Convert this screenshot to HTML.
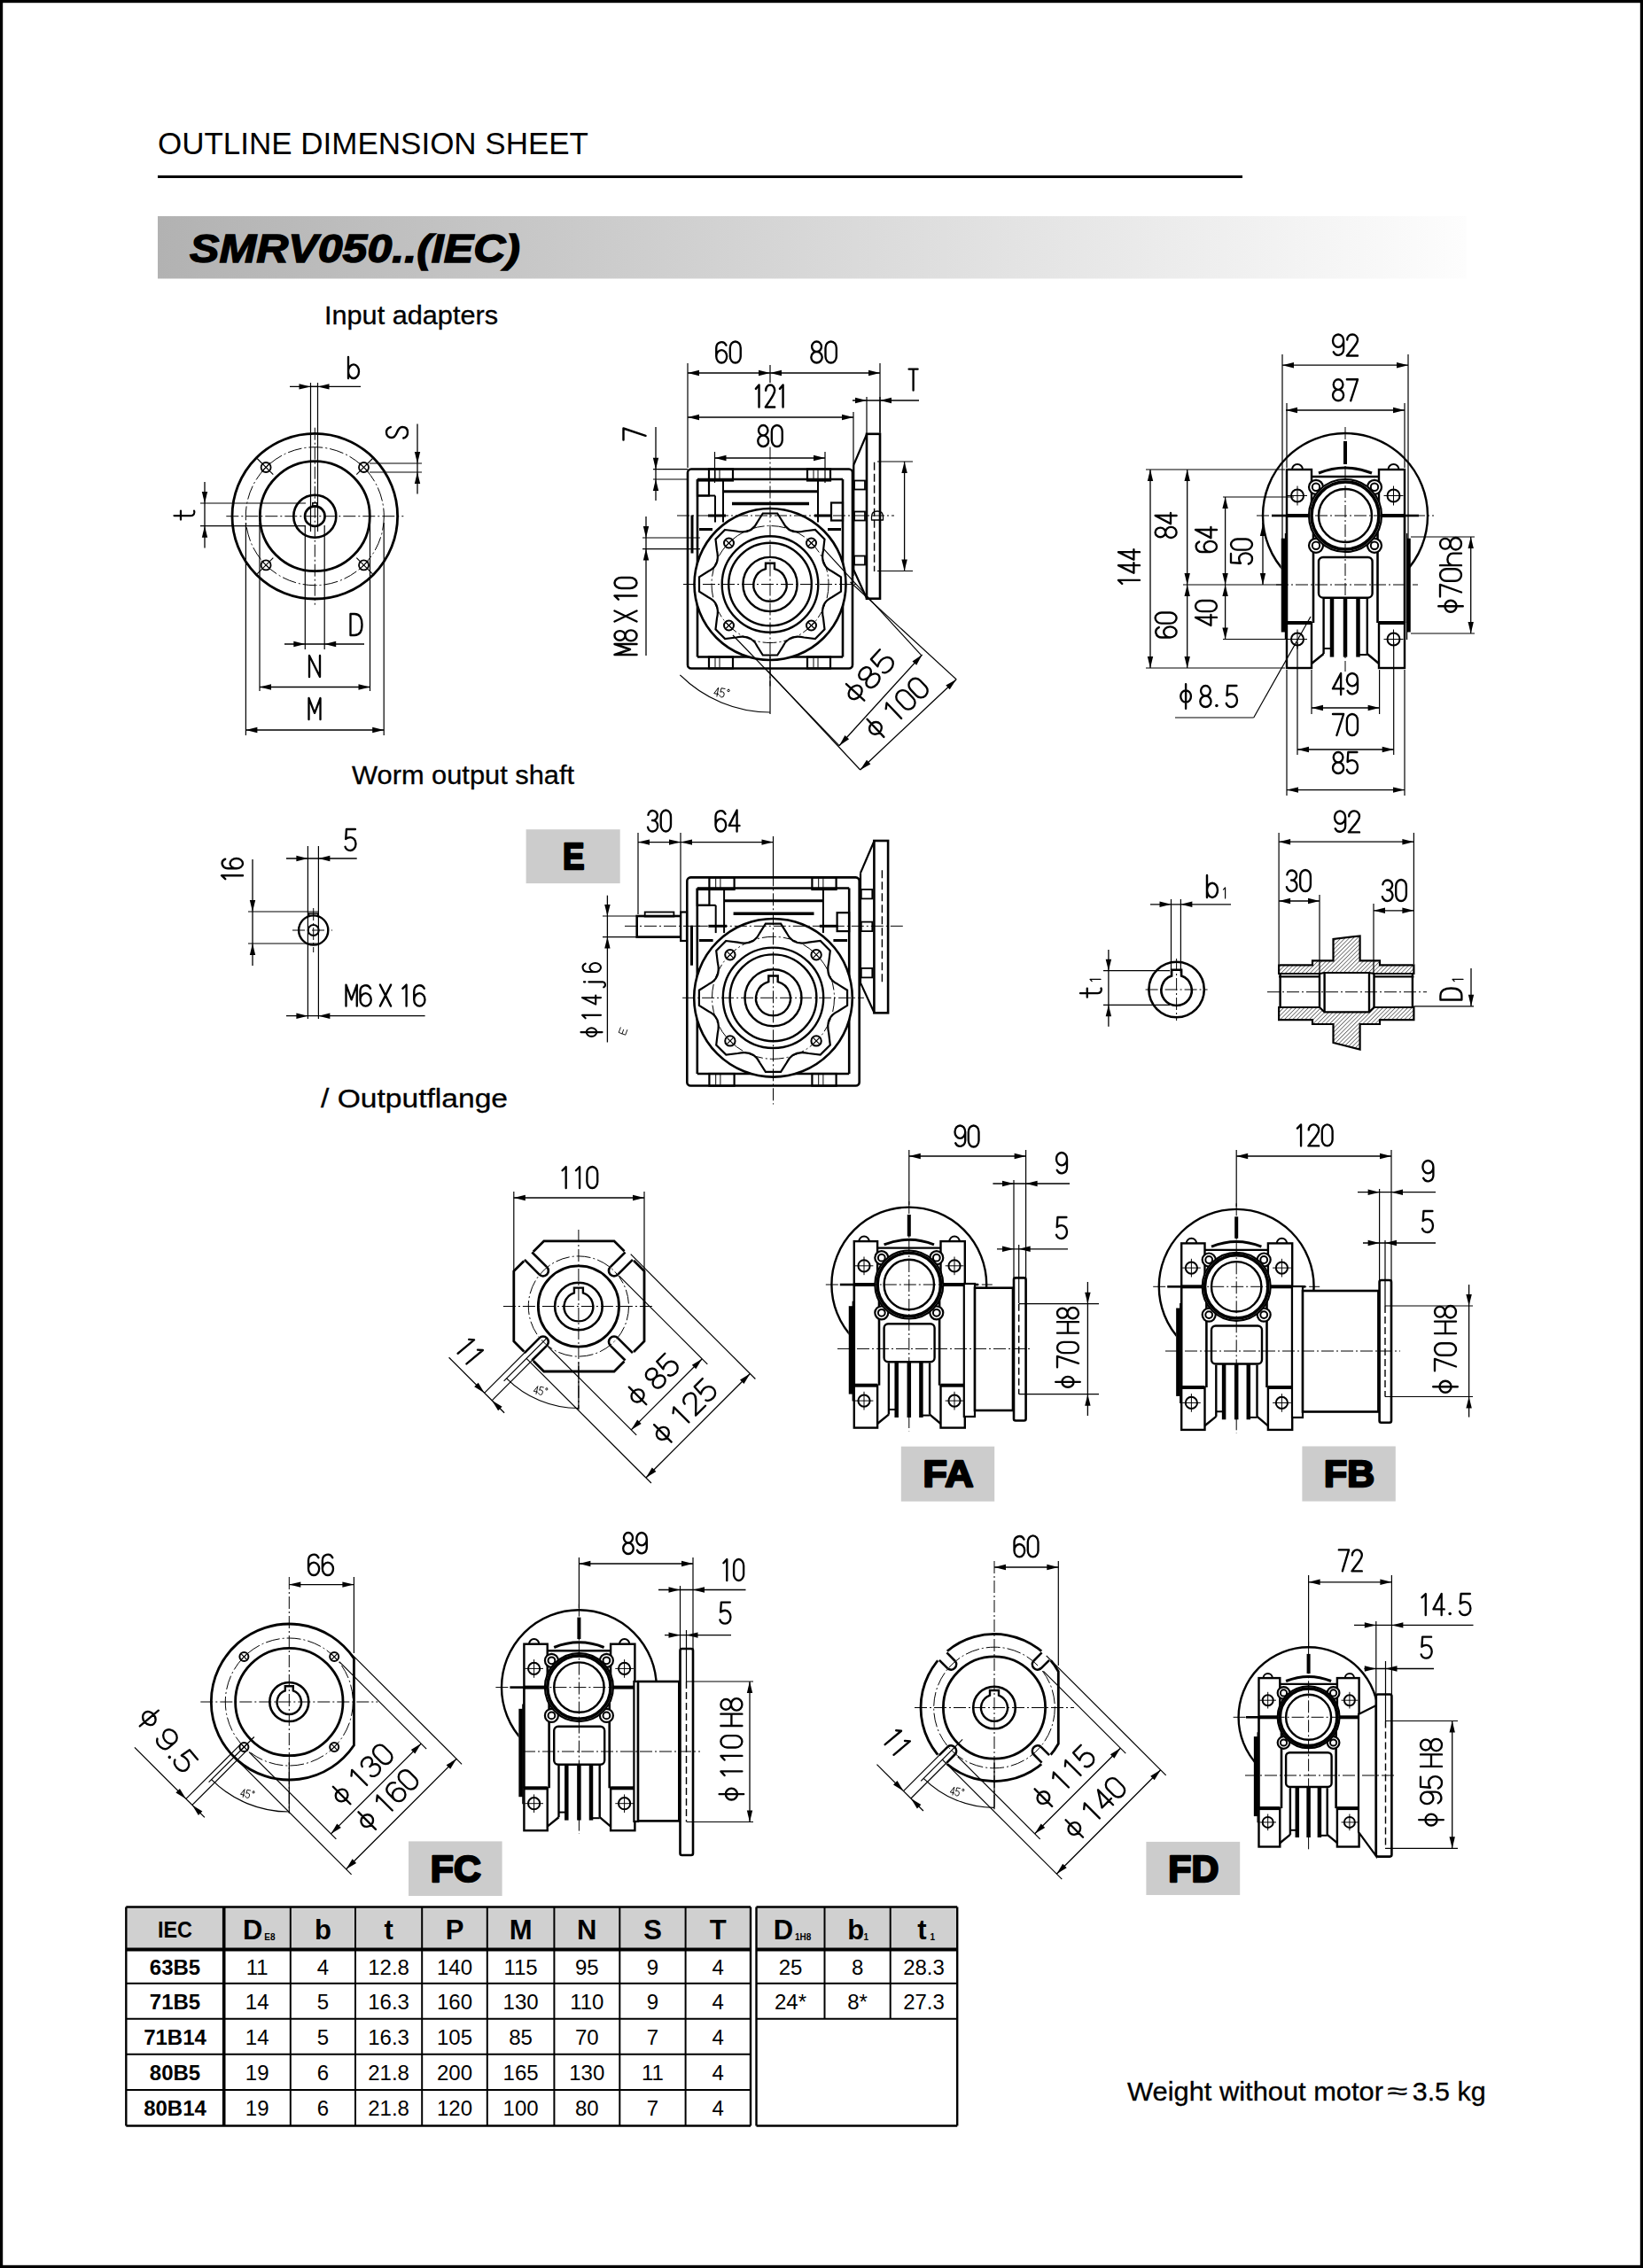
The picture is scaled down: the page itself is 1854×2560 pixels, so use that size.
<!DOCTYPE html>
<html><head><meta charset="utf-8"><style>
html,body{margin:0;padding:0;background:#fff;}
body{width:1854px;height:2560px;position:relative;overflow:hidden;}
svg{position:absolute;left:0;top:0;}
</style></head><body>
<svg width="1854" height="2560" viewBox="0 0 1854 2560">
<defs><linearGradient id="gb" x1="0" x2="1" y1="0" y2="0"><stop offset="0" stop-color="#b2b2b2"/><stop offset="1" stop-color="#fdfdfd"/></linearGradient></defs>
<rect x="1.5" y="1.5" width="1851" height="2557" fill="none" stroke="#000" stroke-width="3.4"/>
<text x="178" y="174" font-family="Liberation Sans" font-size="35.8" textLength="486" lengthAdjust="spacingAndGlyphs">OUTLINE DIMENSION SHEET</text>
<rect x="178" y="198" width="1224" height="3" fill="#000"/>
<rect x="178" y="244" width="1477" height="70.5" fill="url(#gb)"/>
<text x="214" y="296" font-family="Liberation Sans" font-size="45" font-weight="bold" font-style="italic" stroke="#000" stroke-width="1.4" textLength="373" lengthAdjust="spacingAndGlyphs">SMRV050..(IEC)</text>
<text x="366" y="366" font-family="Liberation Sans" font-size="29.5" stroke="#000" stroke-width="0.3" textLength="196" lengthAdjust="spacingAndGlyphs">Input adapters</text>
<text x="397" y="885" font-family="Liberation Sans" font-size="29.5" stroke="#000" stroke-width="0.3" textLength="251" lengthAdjust="spacingAndGlyphs">Worm output shaft</text>
<text x="362" y="1250" font-family="Liberation Sans" font-size="29.5" stroke="#000" stroke-width="0.3" textLength="211" lengthAdjust="spacingAndGlyphs">/ Outputflange</text>
<text x="1272" y="2371" font-family="Liberation Sans" font-size="29.5" stroke="#000" stroke-width="0.3" textLength="289" lengthAdjust="spacingAndGlyphs">Weight without motor</text>
<text x="1565" y="2369" font-family="Liberation Sans" font-size="26" stroke="#000" stroke-width="0.3" textLength="23" lengthAdjust="spacingAndGlyphs">≈</text>
<text x="1593.7" y="2371" font-family="Liberation Sans" font-size="29.5" stroke="#000" stroke-width="0.3" textLength="83" lengthAdjust="spacingAndGlyphs">3.5 kg</text>
<rect x="593.6" y="936.2" width="106.10000000000002" height="60.89999999999998" fill="#cccccc"/>
<text x="647.1500000000001" y="981.2500000000001" font-family="Liberation Sans" font-size="42.5" font-weight="bold" stroke="#000" stroke-width="2.4" stroke-linejoin="round" text-anchor="middle" textLength="24.5" lengthAdjust="spacingAndGlyphs">E</text>
<rect x="1016.8" y="1632.7" width="105.40000000000009" height="62.0" fill="#cccccc"/>
<text x="1070.0" y="1678.3" font-family="Liberation Sans" font-size="42.5" font-weight="bold" stroke="#000" stroke-width="2.4" stroke-linejoin="round" text-anchor="middle" textLength="57" lengthAdjust="spacingAndGlyphs">FA</text>
<rect x="1469.4" y="1632.5" width="105.39999999999986" height="62.09999999999991" fill="#cccccc"/>
<text x="1522.6" y="1678.1499999999999" font-family="Liberation Sans" font-size="42.5" font-weight="bold" stroke="#000" stroke-width="2.4" stroke-linejoin="round" text-anchor="middle" textLength="57" lengthAdjust="spacingAndGlyphs">FB</text>
<rect x="461" y="2078.4" width="105.60000000000002" height="61.59999999999991" fill="#cccccc"/>
<text x="514.3" y="2123.7999999999997" font-family="Liberation Sans" font-size="42.5" font-weight="bold" stroke="#000" stroke-width="2.4" stroke-linejoin="round" text-anchor="middle" textLength="57" lengthAdjust="spacingAndGlyphs">FC</text>
<rect x="1293.4" y="2078.9" width="105.79999999999995" height="60.09999999999991" fill="#cccccc"/>
<text x="1346.8000000000002" y="2123.5499999999997" font-family="Liberation Sans" font-size="42.5" font-weight="bold" stroke="#000" stroke-width="2.4" stroke-linejoin="round" text-anchor="middle" textLength="57" lengthAdjust="spacingAndGlyphs">FD</text>
<rect x="142.3" y="2152.5" width="704.7" height="48.0" fill="#d0d0d0"/>
<rect x="853.5" y="2152.5" width="226.70000000000005" height="48.0" fill="#d0d0d0"/>
<line x1="142.3" y1="2152.5" x2="847" y2="2152.5" stroke="#000" stroke-width="2.4"/>
<line x1="853.5" y1="2152.5" x2="1080.2" y2="2152.5" stroke="#000" stroke-width="2.4"/>
<line x1="142.3" y1="2200.5" x2="847" y2="2200.5" stroke="#000" stroke-width="4"/>
<line x1="853.5" y1="2200.5" x2="1080.2" y2="2200.5" stroke="#000" stroke-width="4"/>
<line x1="142.3" y1="2238.7" x2="847" y2="2238.7" stroke="#000" stroke-width="2"/>
<line x1="142.3" y1="2278.8" x2="847" y2="2278.8" stroke="#000" stroke-width="2"/>
<line x1="142.3" y1="2318.8" x2="847" y2="2318.8" stroke="#000" stroke-width="2"/>
<line x1="142.3" y1="2359" x2="847" y2="2359" stroke="#000" stroke-width="2"/>
<line x1="142.3" y1="2399.5" x2="847" y2="2399.5" stroke="#000" stroke-width="2.4"/>
<line x1="853.5" y1="2238.7" x2="1080.2" y2="2238.7" stroke="#000" stroke-width="2"/>
<line x1="853.5" y1="2278.8" x2="1080.2" y2="2278.8" stroke="#000" stroke-width="2"/>
<line x1="853.5" y1="2399.5" x2="1080.2" y2="2399.5" stroke="#000" stroke-width="2.4"/>
<line x1="142.3" y1="2152.5" x2="142.3" y2="2399.5" stroke="#000" stroke-width="2.4"/>
<line x1="252.7" y1="2152.5" x2="252.7" y2="2399.5" stroke="#000" stroke-width="3.6"/>
<line x1="327.8" y1="2152.5" x2="327.8" y2="2399.5" stroke="#000" stroke-width="2"/>
<line x1="401" y1="2152.5" x2="401" y2="2399.5" stroke="#000" stroke-width="2"/>
<line x1="476.2" y1="2152.5" x2="476.2" y2="2399.5" stroke="#000" stroke-width="2"/>
<line x1="549.8" y1="2152.5" x2="549.8" y2="2399.5" stroke="#000" stroke-width="2"/>
<line x1="625.4" y1="2152.5" x2="625.4" y2="2399.5" stroke="#000" stroke-width="2"/>
<line x1="699.3" y1="2152.5" x2="699.3" y2="2399.5" stroke="#000" stroke-width="2"/>
<line x1="773.6" y1="2152.5" x2="773.6" y2="2399.5" stroke="#000" stroke-width="2"/>
<line x1="847" y1="2152.5" x2="847" y2="2399.5" stroke="#000" stroke-width="2.4"/>
<line x1="853.5" y1="2152.5" x2="853.5" y2="2399.5" stroke="#000" stroke-width="2.4"/>
<line x1="930.5" y1="2152.5" x2="930.5" y2="2278.8" stroke="#000" stroke-width="2"/>
<line x1="1004.7" y1="2152.5" x2="1004.7" y2="2278.8" stroke="#000" stroke-width="2"/>
<line x1="1080.2" y1="2152.5" x2="1080.2" y2="2399.5" stroke="#000" stroke-width="2.4"/>
<text x="197.5" y="2187.0" font-family="Liberation Sans" font-size="26" font-weight="bold" text-anchor="middle" textLength="39" lengthAdjust="spacingAndGlyphs">IEC</text>
<text x="285.2" y="2189.0" font-family="Liberation Sans" font-size="31" font-weight="bold" text-anchor="middle" >D</text>
<text x="298.25" y="2190" font-family="Liberation Sans" font-size="10" font-weight="bold">E8</text>
<text x="364.4" y="2189.0" font-family="Liberation Sans" font-size="31" font-weight="bold" text-anchor="middle" >b</text>
<text x="438.6" y="2189.0" font-family="Liberation Sans" font-size="31" font-weight="bold" text-anchor="middle" >t</text>
<text x="513.0" y="2189.0" font-family="Liberation Sans" font-size="31" font-weight="bold" text-anchor="middle" >P</text>
<text x="587.6" y="2189.0" font-family="Liberation Sans" font-size="31" font-weight="bold" text-anchor="middle" >M</text>
<text x="662.3" y="2189.0" font-family="Liberation Sans" font-size="31" font-weight="bold" text-anchor="middle" >N</text>
<text x="736.5" y="2189.0" font-family="Liberation Sans" font-size="31" font-weight="bold" text-anchor="middle" >S</text>
<text x="810.3" y="2189.0" font-family="Liberation Sans" font-size="31" font-weight="bold" text-anchor="middle" >T</text>
<text x="884.0" y="2189.0" font-family="Liberation Sans" font-size="31" font-weight="bold" text-anchor="middle" >D</text>
<text x="897.0" y="2190" font-family="Liberation Sans" font-size="10" font-weight="bold">1H8</text>
<text x="965.6" y="2189.0" font-family="Liberation Sans" font-size="31" font-weight="bold" text-anchor="middle" >b</text>
<text x="974.6" y="2190" font-family="Liberation Sans" font-size="10" font-weight="bold">1</text>
<text x="1040.5" y="2189.0" font-family="Liberation Sans" font-size="31" font-weight="bold" text-anchor="middle" >t</text>
<text x="1049.45" y="2190" font-family="Liberation Sans" font-size="10" font-weight="bold">1</text>
<text x="197.5" y="2228.6" font-family="Liberation Sans" font-size="24" font-weight="bold" text-anchor="middle" >63B5</text>
<text x="290.2" y="2228.6" font-family="Liberation Sans" font-size="24"  text-anchor="middle" >11</text>
<text x="364.4" y="2228.6" font-family="Liberation Sans" font-size="24"  text-anchor="middle" >4</text>
<text x="438.6" y="2228.6" font-family="Liberation Sans" font-size="24"  text-anchor="middle" >12.8</text>
<text x="513.0" y="2228.6" font-family="Liberation Sans" font-size="24"  text-anchor="middle" >140</text>
<text x="587.6" y="2228.6" font-family="Liberation Sans" font-size="24"  text-anchor="middle" >115</text>
<text x="662.3" y="2228.6" font-family="Liberation Sans" font-size="24"  text-anchor="middle" >95</text>
<text x="736.5" y="2228.6" font-family="Liberation Sans" font-size="24"  text-anchor="middle" >9</text>
<text x="810.3" y="2228.6" font-family="Liberation Sans" font-size="24"  text-anchor="middle" >4</text>
<text x="197.5" y="2267.8" font-family="Liberation Sans" font-size="24" font-weight="bold" text-anchor="middle" >71B5</text>
<text x="290.2" y="2267.8" font-family="Liberation Sans" font-size="24"  text-anchor="middle" >14</text>
<text x="364.4" y="2267.8" font-family="Liberation Sans" font-size="24"  text-anchor="middle" >5</text>
<text x="438.6" y="2267.8" font-family="Liberation Sans" font-size="24"  text-anchor="middle" >16.3</text>
<text x="513.0" y="2267.8" font-family="Liberation Sans" font-size="24"  text-anchor="middle" >160</text>
<text x="587.6" y="2267.8" font-family="Liberation Sans" font-size="24"  text-anchor="middle" >130</text>
<text x="662.3" y="2267.8" font-family="Liberation Sans" font-size="24"  text-anchor="middle" >110</text>
<text x="736.5" y="2267.8" font-family="Liberation Sans" font-size="24"  text-anchor="middle" >9</text>
<text x="810.3" y="2267.8" font-family="Liberation Sans" font-size="24"  text-anchor="middle" >4</text>
<text x="197.5" y="2307.8" font-family="Liberation Sans" font-size="24" font-weight="bold" text-anchor="middle" >71B14</text>
<text x="290.2" y="2307.8" font-family="Liberation Sans" font-size="24"  text-anchor="middle" >14</text>
<text x="364.4" y="2307.8" font-family="Liberation Sans" font-size="24"  text-anchor="middle" >5</text>
<text x="438.6" y="2307.8" font-family="Liberation Sans" font-size="24"  text-anchor="middle" >16.3</text>
<text x="513.0" y="2307.8" font-family="Liberation Sans" font-size="24"  text-anchor="middle" >105</text>
<text x="587.6" y="2307.8" font-family="Liberation Sans" font-size="24"  text-anchor="middle" >85</text>
<text x="662.3" y="2307.8" font-family="Liberation Sans" font-size="24"  text-anchor="middle" >70</text>
<text x="736.5" y="2307.8" font-family="Liberation Sans" font-size="24"  text-anchor="middle" >7</text>
<text x="810.3" y="2307.8" font-family="Liberation Sans" font-size="24"  text-anchor="middle" >4</text>
<text x="197.5" y="2347.9" font-family="Liberation Sans" font-size="24" font-weight="bold" text-anchor="middle" >80B5</text>
<text x="290.2" y="2347.9" font-family="Liberation Sans" font-size="24"  text-anchor="middle" >19</text>
<text x="364.4" y="2347.9" font-family="Liberation Sans" font-size="24"  text-anchor="middle" >6</text>
<text x="438.6" y="2347.9" font-family="Liberation Sans" font-size="24"  text-anchor="middle" >21.8</text>
<text x="513.0" y="2347.9" font-family="Liberation Sans" font-size="24"  text-anchor="middle" >200</text>
<text x="587.6" y="2347.9" font-family="Liberation Sans" font-size="24"  text-anchor="middle" >165</text>
<text x="662.3" y="2347.9" font-family="Liberation Sans" font-size="24"  text-anchor="middle" >130</text>
<text x="736.5" y="2347.9" font-family="Liberation Sans" font-size="24"  text-anchor="middle" >11</text>
<text x="810.3" y="2347.9" font-family="Liberation Sans" font-size="24"  text-anchor="middle" >4</text>
<text x="197.5" y="2388.2" font-family="Liberation Sans" font-size="24" font-weight="bold" text-anchor="middle" >80B14</text>
<text x="290.2" y="2388.2" font-family="Liberation Sans" font-size="24"  text-anchor="middle" >19</text>
<text x="364.4" y="2388.2" font-family="Liberation Sans" font-size="24"  text-anchor="middle" >6</text>
<text x="438.6" y="2388.2" font-family="Liberation Sans" font-size="24"  text-anchor="middle" >21.8</text>
<text x="513.0" y="2388.2" font-family="Liberation Sans" font-size="24"  text-anchor="middle" >120</text>
<text x="587.6" y="2388.2" font-family="Liberation Sans" font-size="24"  text-anchor="middle" >100</text>
<text x="662.3" y="2388.2" font-family="Liberation Sans" font-size="24"  text-anchor="middle" >80</text>
<text x="736.5" y="2388.2" font-family="Liberation Sans" font-size="24"  text-anchor="middle" >7</text>
<text x="810.3" y="2388.2" font-family="Liberation Sans" font-size="24"  text-anchor="middle" >4</text>
<text x="892.0" y="2228.6" font-family="Liberation Sans" font-size="24"  text-anchor="middle" >25</text>
<text x="967.6" y="2228.6" font-family="Liberation Sans" font-size="24"  text-anchor="middle" >8</text>
<text x="1042.5" y="2228.6" font-family="Liberation Sans" font-size="24"  text-anchor="middle" >28.3</text>
<text x="892.0" y="2267.8" font-family="Liberation Sans" font-size="24"  text-anchor="middle" >24*</text>
<text x="967.6" y="2267.8" font-family="Liberation Sans" font-size="24"  text-anchor="middle" >8*</text>
<text x="1042.5" y="2267.8" font-family="Liberation Sans" font-size="24"  text-anchor="middle" >27.3</text>
<circle cx="355.3" cy="582.7" r="93.3" stroke="#000" stroke-width="2.8" fill="none" />
<circle cx="355.3" cy="582.7" r="78.0" stroke="#000" stroke-width="1.0" fill="none" stroke-dasharray="16 3 2 3"/>
<circle cx="355.3" cy="582.7" r="62.0" stroke="#000" stroke-width="2.8" fill="none" />
<circle cx="355.3" cy="582.7" r="24.0" stroke="#000" stroke-width="2.6" fill="none" />
<circle cx="355.3" cy="582.7" r="11.3" stroke="#000" stroke-width="2.6" fill="none" />
<path d="M352.8,571.7 L352.8,567.7 L357.8,567.7 L357.8,571.7" stroke="#000" stroke-width="1.5" fill="none" />
<circle cx="300.1" cy="527.5" r="5.5" stroke="#000" stroke-width="1.8" fill="none" />
<line x1="308.3" y1="535.7" x2="290.1" y2="517.5" stroke="#000" stroke-width="1.1" />
<line x1="295.1" y1="532.5" x2="305.1" y2="522.5" stroke="#000" stroke-width="1.1" />
<circle cx="410.5" cy="527.5" r="5.5" stroke="#000" stroke-width="1.8" fill="none" />
<line x1="402.3" y1="535.7" x2="420.5" y2="517.5" stroke="#000" stroke-width="1.1" />
<line x1="405.5" y1="522.5" x2="415.5" y2="532.5" stroke="#000" stroke-width="1.1" />
<circle cx="300.1" cy="637.9" r="5.5" stroke="#000" stroke-width="1.8" fill="none" />
<line x1="308.3" y1="629.7" x2="290.1" y2="647.9" stroke="#000" stroke-width="1.1" />
<line x1="295.1" y1="632.9" x2="305.1" y2="642.9" stroke="#000" stroke-width="1.1" />
<circle cx="410.5" cy="637.9" r="5.5" stroke="#000" stroke-width="1.8" fill="none" />
<line x1="402.3" y1="629.7" x2="420.5" y2="647.9" stroke="#000" stroke-width="1.1" />
<line x1="405.5" y1="642.9" x2="415.5" y2="632.9" stroke="#000" stroke-width="1.1" />
<line x1="255.3" y1="582.7" x2="455.3" y2="582.7" stroke="#000" stroke-width="1.0" stroke-dasharray="14 3 2 3"/>
<line x1="355.3" y1="482.7" x2="355.3" y2="682.7" stroke="#000" stroke-width="1.0" stroke-dasharray="14 3 2 3"/>
<line x1="350.5" y1="432.0" x2="350.5" y2="600.0" stroke="#000" stroke-width="1.2" />
<line x1="358.5" y1="432.0" x2="358.5" y2="600.0" stroke="#000" stroke-width="1.2" />
<line x1="350.5" y1="436.4" x2="358.5" y2="436.4" stroke="#000" stroke-width="1.3" />
<line x1="327.0" y1="436.4" x2="407.0" y2="436.4" stroke="#000" stroke-width="1.3" />
<path d="M350.5,436.4 L337.5,439.6 L337.5,433.2Z" fill="#000"/>
<path d="M358.5,436.4 L371.5,433.2 L371.5,439.6Z" fill="#000"/>
<g transform="translate(399.0,415.0) rotate(0)" fill="none" stroke="#000" stroke-width="2.35" stroke-linecap="round" stroke-linejoin="round"><path transform="translate(-6.00,-12.00) scale(1.2000,1.2000)" d="M0,0 L0,20 M0,13.5 A5,6.5 0 0 1 10,13.5 A5,6.5 0 0 1 0,13.5" vector-effect="non-scaling-stroke"/></g>
<line x1="417.0" y1="523.0" x2="476.0" y2="523.0" stroke="#000" stroke-width="1.2" />
<line x1="417.0" y1="533.0" x2="476.0" y2="533.0" stroke="#000" stroke-width="1.2" />
<line x1="471.0" y1="478.5" x2="471.0" y2="557.6" stroke="#000" stroke-width="1.3" />
<path d="M471.0,523.0 L467.8,510.0 L474.2,510.0Z" fill="#000"/>
<path d="M471.0,533.0 L474.2,546.0 L467.8,546.0Z" fill="#000"/>
<g transform="translate(448.0,488.0) rotate(-90)" fill="none" stroke="#000" stroke-width="2.35" stroke-linecap="round" stroke-linejoin="round"><path transform="translate(-6.50,-12.00) scale(1.3000,1.2000)" d="M9.6,4 C9,1.5 7.2,0 5,0 C2,0 0.4,2 0.4,5 C0.4,11 9.6,9 9.6,15 C9.6,18.2 7.8,20 5,20 C2.4,20 0.5,18.4 0,16" vector-effect="non-scaling-stroke"/></g>
<line x1="226.0" y1="568.0" x2="345.0" y2="568.0" stroke="#000" stroke-width="1.2" />
<line x1="226.0" y1="593.7" x2="345.0" y2="593.7" stroke="#000" stroke-width="1.2" />
<line x1="231.0" y1="544.0" x2="231.0" y2="618.5" stroke="#000" stroke-width="1.3" />
<path d="M231.0,568.0 L227.8,555.0 L234.2,555.0Z" fill="#000"/>
<path d="M231.0,593.7 L234.2,606.7 L227.8,606.7Z" fill="#000"/>
<g transform="translate(208.0,581.0) rotate(-90)" fill="none" stroke="#000" stroke-width="2.25" stroke-linecap="round" stroke-linejoin="round"><path transform="translate(-5.50,-11.50) scale(1.1000,1.1500)" d="M4,0 L4,16.5 A3.5,3.5 0 0 0 9,19.6 M0,6.5 L9,6.5" vector-effect="non-scaling-stroke"/></g>
<line x1="344.3" y1="593.0" x2="344.3" y2="733.0" stroke="#000" stroke-width="1.2" />
<line x1="366.2" y1="593.0" x2="366.2" y2="733.0" stroke="#000" stroke-width="1.2" />
<line x1="321.0" y1="727.0" x2="411.0" y2="727.0" stroke="#000" stroke-width="1.3" />
<path d="M344.3,727.0 L331.3,730.2 L331.3,723.8Z" fill="#000"/>
<path d="M366.2,727.0 L379.2,723.8 L379.2,730.2Z" fill="#000"/>
<g transform="translate(402.0,705.0) rotate(0)" fill="none" stroke="#000" stroke-width="2.35" stroke-linecap="round" stroke-linejoin="round"><path transform="translate(-6.50,-12.00) scale(1.3000,1.2000)" d="M0,0 L3.5,0 C8.5,0 10,4.5 10,10 C10,15.5 8.5,20 3.5,20 L0,20 Z" vector-effect="non-scaling-stroke"/></g>
<line x1="293.0" y1="590.0" x2="293.0" y2="780.0" stroke="#000" stroke-width="1.2" />
<line x1="417.5" y1="590.0" x2="417.5" y2="780.0" stroke="#000" stroke-width="1.2" />
<line x1="293.0" y1="775.5" x2="417.5" y2="775.5" stroke="#000" stroke-width="1.3" />
<path d="M293.0,775.5 L306.0,772.3 L306.0,778.7Z" fill="#000"/>
<path d="M417.5,775.5 L404.5,778.7 L404.5,772.3Z" fill="#000"/>
<g transform="translate(355.0,752.0) rotate(0)" fill="none" stroke="#000" stroke-width="2.35" stroke-linecap="round" stroke-linejoin="round"><path transform="translate(-6.00,-12.00) scale(1.2000,1.2000)" d="M0,20 L0,0 L10,20 L10,0" vector-effect="non-scaling-stroke"/></g>
<line x1="277.4" y1="590.0" x2="277.4" y2="830.0" stroke="#000" stroke-width="1.2" />
<line x1="433.2" y1="590.0" x2="433.2" y2="830.0" stroke="#000" stroke-width="1.2" />
<line x1="277.4" y1="824.0" x2="433.2" y2="824.0" stroke="#000" stroke-width="1.3" />
<path d="M277.4,824.0 L290.4,820.8 L290.4,827.2Z" fill="#000"/>
<path d="M433.2,824.0 L420.2,827.2 L420.2,820.8Z" fill="#000"/>
<g transform="translate(355.0,800.0) rotate(0)" fill="none" stroke="#000" stroke-width="2.35" stroke-linecap="round" stroke-linejoin="round"><path transform="translate(-6.50,-12.00) scale(1.3000,1.2000)" d="M0,20 L0,0 L5,14 L10,0 L10,20" vector-effect="non-scaling-stroke"/></g>
<rect x="776.0" y="529.5" width="186.0" height="225.0" rx="4" stroke="#000" stroke-width="2.6" fill="none"/>
<line x1="787.0" y1="541.0" x2="951.0" y2="541.0" stroke="#000" stroke-width="2.6" />
<line x1="787.0" y1="541.0" x2="787.0" y2="741.5" stroke="#000" stroke-width="2.6" />
<line x1="951.0" y1="541.0" x2="951.0" y2="741.5" stroke="#000" stroke-width="2.6" />
<line x1="787.0" y1="741.5" x2="951.0" y2="741.5" stroke="#000" stroke-width="2.6" />
<rect x="800.0" y="529.5" width="27.0" height="13.0" rx="0" stroke="#000" stroke-width="2.2" fill="none"/>
<rect x="911.0" y="529.5" width="26.0" height="13.0" rx="0" stroke="#000" stroke-width="2.2" fill="none"/>
<line x1="807.0" y1="530.5" x2="807.0" y2="541.5" stroke="#000" stroke-width="1.0" />
<line x1="812.0" y1="530.5" x2="812.0" y2="541.5" stroke="#000" stroke-width="1.0" />
<line x1="918.0" y1="530.5" x2="918.0" y2="541.5" stroke="#000" stroke-width="1.0" />
<line x1="923.0" y1="530.5" x2="923.0" y2="541.5" stroke="#000" stroke-width="1.0" />
<rect x="800.0" y="741.5" width="27.0" height="13.0" rx="0" stroke="#000" stroke-width="2.2" fill="none"/>
<rect x="911.0" y="741.5" width="26.0" height="13.0" rx="0" stroke="#000" stroke-width="2.2" fill="none"/>
<line x1="807.0" y1="742.5" x2="807.0" y2="753.5" stroke="#000" stroke-width="1.0" />
<line x1="812.0" y1="742.5" x2="812.0" y2="753.5" stroke="#000" stroke-width="1.0" />
<line x1="918.0" y1="742.5" x2="918.0" y2="753.5" stroke="#000" stroke-width="1.0" />
<line x1="923.0" y1="742.5" x2="923.0" y2="753.5" stroke="#000" stroke-width="1.0" />
<line x1="816.0" y1="554.7" x2="923.0" y2="554.7" stroke="#000" stroke-width="3.0" />
<line x1="826.0" y1="568.5" x2="913.0" y2="568.5" stroke="#000" stroke-width="3.5" />
<line x1="816.0" y1="541.0" x2="816.0" y2="589.5" stroke="#000" stroke-width="2.0" />
<line x1="923.0" y1="541.0" x2="923.0" y2="589.5" stroke="#000" stroke-width="2.0" />
<rect x="787.0" y="542.5" width="13.0" height="17.0" rx="0" stroke="#000" stroke-width="2.2" fill="none"/>
<rect x="938.0" y="567.5" width="13.0" height="20.0" rx="0" stroke="#000" stroke-width="2.2" fill="none"/>
<line x1="787.0" y1="559.5" x2="807.0" y2="559.5" stroke="#000" stroke-width="2.0" />
<line x1="807.0" y1="559.5" x2="807.0" y2="589.5" stroke="#000" stroke-width="2.0" />
<line x1="799.0" y1="582.0" x2="819.0" y2="582.0" stroke="#000" stroke-width="3.0" />
<line x1="919.0" y1="582.0" x2="939.0" y2="582.0" stroke="#000" stroke-width="3.0" />
<line x1="789.0" y1="597.5" x2="804.0" y2="597.5" stroke="#000" stroke-width="3.0" />
<line x1="934.0" y1="597.5" x2="949.0" y2="597.5" stroke="#000" stroke-width="3.0" />
<line x1="781.0" y1="581.5" x2="781.0" y2="624.5" stroke="#000" stroke-width="3.0" />
<circle cx="869.0" cy="659.5" r="85.5" stroke="#000" stroke-width="2.6" fill="#fff" />
<path d=" M818.1,598.0 L830.7,599.5 Q848.0,603.5 854.5,589.5 L860.8,579.5 L877.2,579.5 L883.5,589.5 Q890.0,603.5 907.3,599.5 L919.9,598.0 L930.5,608.6 L929.0,621.2 Q925.0,638.5 939.0,645.0 L949.0,651.3 L949.0,667.7 L939.0,674.0 Q925.0,680.5 929.0,697.8 L930.5,710.4 L919.9,721.0 L907.3,719.5 Q890.0,715.5 883.5,729.5 L877.2,739.5 L860.8,739.5 L854.5,729.5 Q848.0,715.5 830.7,719.5 L818.1,721.0 L807.5,710.4 L809.0,697.8 Q813.0,680.5 799.0,674.0 L789.0,667.7 L789.0,651.3 L799.0,645.0 Q813.0,638.5 809.0,621.2 L807.5,608.6Z" stroke="#000" stroke-width="2.2" fill="none" />
<circle cx="869.0" cy="659.5" r="54.3" stroke="#000" stroke-width="2.4" fill="none" />
<circle cx="869.0" cy="659.5" r="46.8" stroke="#000" stroke-width="2.4" fill="none" />
<circle cx="869.0" cy="659.5" r="30.6" stroke="#000" stroke-width="2.4" fill="none" />
<path d="M864.0,642.1 L864.0,635.8 L874.0,635.8 L874.0,642.1 A18.7,18.7 0 1 1 864.0,642.1Z" stroke="#000" stroke-width="2.4" fill="none" />
<circle cx="869.0" cy="659.5" r="66.0" stroke="#000" stroke-width="1.0" fill="none" stroke-dasharray="16 3 2 3"/>
<circle cx="822.5" cy="613.0" r="5.5" stroke="#000" stroke-width="2.0" fill="none" />
<line x1="819.0" y1="609.5" x2="826.0" y2="616.5" stroke="#000" stroke-width="1.2" />
<line x1="819.0" y1="616.5" x2="826.0" y2="609.5" stroke="#000" stroke-width="1.2" />
<circle cx="915.5" cy="613.0" r="5.5" stroke="#000" stroke-width="2.0" fill="none" />
<line x1="912.0" y1="609.5" x2="919.0" y2="616.5" stroke="#000" stroke-width="1.2" />
<line x1="912.0" y1="616.5" x2="919.0" y2="609.5" stroke="#000" stroke-width="1.2" />
<circle cx="822.5" cy="706.0" r="5.5" stroke="#000" stroke-width="2.0" fill="none" />
<line x1="819.0" y1="702.5" x2="826.0" y2="709.5" stroke="#000" stroke-width="1.2" />
<line x1="819.0" y1="709.5" x2="826.0" y2="702.5" stroke="#000" stroke-width="1.2" />
<circle cx="915.5" cy="706.0" r="5.5" stroke="#000" stroke-width="2.0" fill="none" />
<line x1="912.0" y1="702.5" x2="919.0" y2="709.5" stroke="#000" stroke-width="1.2" />
<line x1="912.0" y1="709.5" x2="919.0" y2="702.5" stroke="#000" stroke-width="1.2" />
<rect x="978.0" y="489.8" width="15.0" height="185.9" rx="0" stroke="#000" stroke-width="2.6" fill="none"/>
<line x1="963.3" y1="524.7" x2="978.2" y2="489.8" stroke="#000" stroke-width="2.2" />
<line x1="963.3" y1="643.3" x2="978.2" y2="675.7" stroke="#000" stroke-width="2.2" />
<line x1="963.3" y1="524.7" x2="963.3" y2="643.3" stroke="#000" stroke-width="2.2" />
<rect x="964.0" y="542.5" width="12.0" height="10.0" rx="0" stroke="#000" stroke-width="1.8" fill="none"/>
<rect x="964.0" y="577.5" width="12.0" height="10.0" rx="0" stroke="#000" stroke-width="1.8" fill="none"/>
<rect x="964.0" y="627.5" width="12.0" height="10.0" rx="0" stroke="#000" stroke-width="1.8" fill="none"/>
<line x1="986.6" y1="521.7" x2="986.6" y2="645.0" stroke="#000" stroke-width="1.4" stroke-dasharray="9 4"/>
<line x1="869.0" y1="504.5" x2="869.0" y2="774.5" stroke="#000" stroke-width="1.0" stroke-dasharray="14 3 2 3"/>
<line x1="771.0" y1="659.5" x2="967.0" y2="659.5" stroke="#000" stroke-width="1.0" stroke-dasharray="14 3 2 3"/>
<line x1="764.0" y1="582.0" x2="1009.0" y2="582.0" stroke="#000" stroke-width="1.0" stroke-dasharray="14 3 2 3"/>
<line x1="776.0" y1="410.0" x2="776.0" y2="528.0" stroke="#000" stroke-width="1.2" />
<line x1="993.0" y1="410.0" x2="993.0" y2="488.0" stroke="#000" stroke-width="1.2" />
<line x1="869.0" y1="412.0" x2="869.0" y2="432.0" stroke="#000" stroke-width="1.2" />
<line x1="776.0" y1="421.0" x2="993.0" y2="421.0" stroke="#000" stroke-width="1.3" />
<path d="M776.0,421.0 L789.0,417.8 L789.0,424.2Z" fill="#000"/>
<path d="M869.0,421.0 L856.0,424.2 L856.0,417.8Z" fill="#000"/>
<path d="M869.0,421.0 L882.0,417.8 L882.0,424.2Z" fill="#000"/>
<path d="M993.0,421.0 L980.0,424.2 L980.0,417.8Z" fill="#000"/>
<g transform="translate(822.0,397.5) rotate(0)" fill="none" stroke="#000" stroke-width="2.35" stroke-linecap="round" stroke-linejoin="round"><path transform="translate(-13.75,-12.00) scale(1.1934,1.2000)" d="M9.4,3.5 A5,5.6 0 0 0 0,6 L0,14 A5,6 0 0 0 10,14 A5,6 0 0 0 0,14" vector-effect="non-scaling-stroke"/><path transform="translate(1.82,-12.00) scale(1.1934,1.2000)" d="M0,6 A5,6 0 0 1 10,6 L10,14 A5,6 0 0 1 0,14 Z" vector-effect="non-scaling-stroke"/></g>
<g transform="translate(929.6,397.5) rotate(0)" fill="none" stroke="#000" stroke-width="2.35" stroke-linecap="round" stroke-linejoin="round"><path transform="translate(-14.25,-12.00) scale(1.2368,1.2000)" d="M5,0 A4.4,4.8 0 0 1 5,9.6 A4.4,4.8 0 0 1 5,0 M5,9.6 A5,5.2 0 0 1 5,20 A5,5.2 0 0 1 5,9.6" vector-effect="non-scaling-stroke"/><path transform="translate(1.88,-12.00) scale(1.2368,1.2000)" d="M0,6 A5,6 0 0 1 10,6 L10,14 A5,6 0 0 1 0,14 Z" vector-effect="non-scaling-stroke"/></g>
<line x1="963.0" y1="465.0" x2="963.0" y2="650.0" stroke="#000" stroke-width="1.2" />
<line x1="776.0" y1="471.0" x2="963.0" y2="471.0" stroke="#000" stroke-width="1.3" />
<path d="M776.0,471.0 L789.0,467.8 L789.0,474.2Z" fill="#000"/>
<path d="M963.0,471.0 L950.0,474.2 L950.0,467.8Z" fill="#000"/>
<g transform="translate(869.0,447.0) rotate(0)" fill="none" stroke="#000" stroke-width="2.45" stroke-linecap="round" stroke-linejoin="round"><path transform="translate(-18.70,-12.50) scale(1.0364,1.2500)" d="M2.5,3.5 L6,0 L6,20" vector-effect="non-scaling-stroke"/><path transform="translate(-5.18,-12.50) scale(1.0364,1.2500)" d="M0.3,5 A4.85,5 0 0 1 10,5 C10,8.5 7,11 0,20 L10,20" vector-effect="non-scaling-stroke"/><path transform="translate(8.34,-12.50) scale(1.0364,1.2500)" d="M2.5,3.5 L6,0 L6,20" vector-effect="non-scaling-stroke"/></g>
<line x1="806.5" y1="510.0" x2="806.5" y2="545.0" stroke="#000" stroke-width="1.2" />
<line x1="931.0" y1="510.0" x2="931.0" y2="545.0" stroke="#000" stroke-width="1.2" />
<line x1="806.5" y1="517.0" x2="931.0" y2="517.0" stroke="#000" stroke-width="1.3" />
<path d="M806.5,517.0 L819.5,513.8 L819.5,520.2Z" fill="#000"/>
<path d="M931.0,517.0 L918.0,520.2 L918.0,513.8Z" fill="#000"/>
<g transform="translate(869.0,492.0) rotate(0)" fill="none" stroke="#000" stroke-width="2.35" stroke-linecap="round" stroke-linejoin="round"><path transform="translate(-13.75,-12.00) scale(1.1934,1.2000)" d="M5,0 A4.4,4.8 0 0 1 5,9.6 A4.4,4.8 0 0 1 5,0 M5,9.6 A5,5.2 0 0 1 5,20 A5,5.2 0 0 1 5,9.6" vector-effect="non-scaling-stroke"/><path transform="translate(1.82,-12.00) scale(1.1934,1.2000)" d="M0,6 A5,6 0 0 1 10,6 L10,14 A5,6 0 0 1 0,14 Z" vector-effect="non-scaling-stroke"/></g>
<line x1="978.0" y1="448.0" x2="978.0" y2="490.0" stroke="#000" stroke-width="1.2" />
<line x1="993.0" y1="448.0" x2="993.0" y2="490.0" stroke="#000" stroke-width="1.2" />
<line x1="962.0" y1="452.0" x2="1037.0" y2="452.0" stroke="#000" stroke-width="1.3" />
<path d="M978.0,452.0 L965.0,455.2 L965.0,448.8Z" fill="#000"/>
<path d="M993.0,452.0 L1006.0,448.8 L1006.0,455.2Z" fill="#000"/>
<g transform="translate(1030.6,428.6) rotate(0)" fill="none" stroke="#000" stroke-width="2.35" stroke-linecap="round" stroke-linejoin="round"><path transform="translate(-5.00,-12.00) scale(1.0000,1.2000)" d="M0,0 L10,0 M5,0 L5,20" vector-effect="non-scaling-stroke"/></g>
<line x1="737.0" y1="529.7" x2="776.0" y2="529.7" stroke="#000" stroke-width="1.2" />
<line x1="737.0" y1="541.0" x2="776.0" y2="541.0" stroke="#000" stroke-width="1.2" />
<line x1="740.0" y1="482.0" x2="740.0" y2="565.0" stroke="#000" stroke-width="1.3" />
<path d="M740.0,529.7 L736.8,516.7 L743.2,516.7Z" fill="#000"/>
<path d="M740.0,541.0 L743.2,554.0 L736.8,554.0Z" fill="#000"/>
<g transform="translate(716.0,490.0) rotate(-90)" fill="none" stroke="#000" stroke-width="2.45" stroke-linecap="round" stroke-linejoin="round"><path transform="translate(-6.50,-12.50) scale(1.3000,1.2500)" d="M0,0 L10,0 L3.6,20" vector-effect="non-scaling-stroke"/></g>
<line x1="725.0" y1="607.0" x2="790.0" y2="607.0" stroke="#000" stroke-width="1.2" />
<line x1="725.0" y1="619.6" x2="790.0" y2="619.6" stroke="#000" stroke-width="1.2" />
<line x1="729.0" y1="583.0" x2="729.0" y2="740.0" stroke="#000" stroke-width="1.3" />
<path d="M729.0,607.0 L725.8,594.0 L732.2,594.0Z" fill="#000"/>
<path d="M729.0,619.6 L732.2,632.6 L725.8,632.6Z" fill="#000"/>
<g transform="translate(706.0,695.5) rotate(-90)" fill="none" stroke="#000" stroke-width="2.45" stroke-linecap="round" stroke-linejoin="round"><path transform="translate(-43.50,-12.50) scale(1.1982,1.2500)" d="M0,20 L0,0 L5,14 L10,0 L10,20" vector-effect="non-scaling-stroke"/><path transform="translate(-27.87,-12.50) scale(1.1982,1.2500)" d="M5,0 A4.4,4.8 0 0 1 5,9.6 A4.4,4.8 0 0 1 5,0 M5,9.6 A5,5.2 0 0 1 5,20 A5,5.2 0 0 1 5,9.6" vector-effect="non-scaling-stroke"/><path transform="translate(-5.99,-12.50) scale(1.1982,1.2500)" d="M0,0 L10,20 M10,0 L0,20" vector-effect="non-scaling-stroke"/><path transform="translate(15.89,-12.50) scale(1.1982,1.2500)" d="M2.5,3.5 L6,0 L6,20" vector-effect="non-scaling-stroke"/><path transform="translate(31.52,-12.50) scale(1.1982,1.2500)" d="M0,6 A5,6 0 0 1 10,6 L10,14 A5,6 0 0 1 0,14 Z" vector-effect="non-scaling-stroke"/></g>
<line x1="990.0" y1="521.0" x2="1030.0" y2="521.0" stroke="#000" stroke-width="1.2" />
<line x1="990.0" y1="644.5" x2="1030.0" y2="644.5" stroke="#000" stroke-width="1.2" />
<line x1="1020.6" y1="521.0" x2="1020.6" y2="644.5" stroke="#000" stroke-width="1.3" />
<path d="M1020.6,521.0 L1023.8,534.0 L1017.4,534.0Z" fill="#000"/>
<path d="M1020.6,644.5 L1017.4,631.5 L1023.8,631.5Z" fill="#000"/>
<g transform="translate(990.0,582.0) rotate(-90)" fill="none" stroke="#000" stroke-width="1.27" stroke-linecap="round" stroke-linejoin="round"><path transform="translate(-5.00,-6.50) scale(1.0000,0.6500)" d="M0,0 L3.5,0 C8.5,0 10,4.5 10,10 C10,15.5 8.5,20 3.5,20 L0,20 Z" vector-effect="non-scaling-stroke"/></g>
<line x1="827.0" y1="717.0" x2="947.0" y2="841.7" stroke="#000" stroke-width="1.2" />
<line x1="929.5" y1="619.6" x2="1039.4" y2="739.4" stroke="#000" stroke-width="1.2" />
<line x1="947.0" y1="841.7" x2="1040.6" y2="739.0" stroke="#000" stroke-width="1.3" />
<path d="M1040.6,739.0 L1034.2,750.8 L1029.5,746.5Z" fill="#000"/>
<path d="M947.0,841.7 L953.4,829.9 L958.1,834.2Z" fill="#000"/>
<line x1="866.0" y1="756.8" x2="970.7" y2="869.0" stroke="#000" stroke-width="1.2" />
<line x1="959.5" y1="657.0" x2="1079.3" y2="767.0" stroke="#000" stroke-width="1.2" />
<line x1="970.7" y1="869.0" x2="1079.0" y2="767.0" stroke="#000" stroke-width="1.3" />
<path d="M1079.0,767.0 L1071.7,778.2 L1067.3,773.6Z" fill="#000"/>
<path d="M970.7,869.0 L978.0,857.8 L982.4,862.4Z" fill="#000"/>
<g transform="translate(980.7,764.3) rotate(-47.65419551340666)" fill="none" stroke="#000" stroke-width="2.35" stroke-linecap="round" stroke-linejoin="round"><path transform="translate(-32.00,-12.00) scale(1.7735,1.2000)" d="M5,-1.5 L5,21.5 M5,4.5 A4.8,5.5 0 0 1 5,15.5 A4.8,5.5 0 0 1 5,4.5" vector-effect="non-scaling-stroke"/><path transform="translate(-8.87,-12.00) scale(1.7735,1.2000)" d="M5,0 A4.4,4.8 0 0 1 5,9.6 A4.4,4.8 0 0 1 5,0 M5,9.6 A5,5.2 0 0 1 5,20 A5,5.2 0 0 1 5,9.6" vector-effect="non-scaling-stroke"/><path transform="translate(14.27,-12.00) scale(1.7735,1.2000)" d="M9.5,0 L1.2,0 L0.6,9.2 C1.8,8 3.5,7.6 5,7.6 A5,6.2 0 0 1 5,20 C2.6,20 0.6,18.6 0,16.5" vector-effect="non-scaling-stroke"/></g>
<g transform="translate(1012.0,799.2) rotate(-43.2840918271494)" fill="none" stroke="#000" stroke-width="2.35" stroke-linecap="round" stroke-linejoin="round"><path transform="translate(-40.50,-12.00) scale(1.4904,1.2000)" d="M5,-1.5 L5,21.5 M5,4.5 A4.8,5.5 0 0 1 5,15.5 A4.8,5.5 0 0 1 5,4.5" vector-effect="non-scaling-stroke"/><path transform="translate(-13.28,-12.00) scale(1.4904,1.2000)" d="M2.5,3.5 L6,0 L6,20" vector-effect="non-scaling-stroke"/><path transform="translate(6.16,-12.00) scale(1.4904,1.2000)" d="M0,6 A5,6 0 0 1 10,6 L10,14 A5,6 0 0 1 0,14 Z" vector-effect="non-scaling-stroke"/><path transform="translate(25.60,-12.00) scale(1.4904,1.2000)" d="M0,6 A5,6 0 0 1 10,6 L10,14 A5,6 0 0 1 0,14 Z" vector-effect="non-scaling-stroke"/></g>
<path d="M767.4,761.8 A144,144 0 0 0 869,804" stroke="#000" stroke-width="1.2" fill="none" />
<line x1="869.0" y1="740.0" x2="869.0" y2="806.0" stroke="#000" stroke-width="1.2" />
<g transform="translate(815.0,782.0) rotate(10)" fill="none" stroke="#000" stroke-width="0.98" stroke-linecap="round" stroke-linejoin="round"><path transform="translate(-9.00,-5.00) scale(0.4988,0.5000)" d="M7.5,20 L7.5,0 L0,14.5 L10,14.5" vector-effect="non-scaling-stroke"/><path transform="translate(-2.49,-5.00) scale(0.4988,0.5000)" d="M9.5,0 L1.2,0 L0.6,9.2 C1.8,8 3.5,7.6 5,7.6 A5,6.2 0 0 1 5,20 C2.6,20 0.6,18.6 0,16.5" vector-effect="non-scaling-stroke"/><path transform="translate(4.01,-5.00) scale(0.4988,0.5000)" d="M5,0 A2.5,2.5 0 0 1 5,5 A2.5,2.5 0 0 1 5,0" vector-effect="non-scaling-stroke"/></g>
<rect x="775.3" y="990.4" width="194.4" height="235.1" rx="4" stroke="#000" stroke-width="2.6" fill="none"/>
<line x1="786.8" y1="1002.5" x2="958.2" y2="1002.5" stroke="#000" stroke-width="2.6" />
<line x1="786.8" y1="1002.5" x2="786.8" y2="1212.0" stroke="#000" stroke-width="2.6" />
<line x1="958.2" y1="1002.5" x2="958.2" y2="1212.0" stroke="#000" stroke-width="2.6" />
<line x1="786.8" y1="1212.0" x2="958.2" y2="1212.0" stroke="#000" stroke-width="2.6" />
<rect x="800.4" y="990.4" width="28.2" height="13.6" rx="0" stroke="#000" stroke-width="2.2" fill="none"/>
<rect x="916.4" y="990.4" width="27.2" height="13.6" rx="0" stroke="#000" stroke-width="2.2" fill="none"/>
<line x1="807.7" y1="991.5" x2="807.7" y2="1003.0" stroke="#000" stroke-width="1.0" />
<line x1="812.9" y1="991.5" x2="812.9" y2="1003.0" stroke="#000" stroke-width="1.0" />
<line x1="923.7" y1="991.5" x2="923.7" y2="1003.0" stroke="#000" stroke-width="1.0" />
<line x1="928.9" y1="991.5" x2="928.9" y2="1003.0" stroke="#000" stroke-width="1.0" />
<rect x="800.4" y="1212.0" width="28.2" height="13.6" rx="0" stroke="#000" stroke-width="2.2" fill="none"/>
<rect x="916.4" y="1212.0" width="27.2" height="13.6" rx="0" stroke="#000" stroke-width="2.2" fill="none"/>
<line x1="807.7" y1="1213.0" x2="807.7" y2="1224.5" stroke="#000" stroke-width="1.0" />
<line x1="812.9" y1="1213.0" x2="812.9" y2="1224.5" stroke="#000" stroke-width="1.0" />
<line x1="923.7" y1="1213.0" x2="923.7" y2="1224.5" stroke="#000" stroke-width="1.0" />
<line x1="928.9" y1="1213.0" x2="928.9" y2="1224.5" stroke="#000" stroke-width="1.0" />
<line x1="817.1" y1="1016.8" x2="928.9" y2="1016.8" stroke="#000" stroke-width="3.0" />
<line x1="827.6" y1="1031.2" x2="918.5" y2="1031.2" stroke="#000" stroke-width="3.5" />
<line x1="817.1" y1="1002.5" x2="817.1" y2="1053.1" stroke="#000" stroke-width="2.0" />
<line x1="928.9" y1="1002.5" x2="928.9" y2="1053.1" stroke="#000" stroke-width="2.0" />
<rect x="786.8" y="1004.0" width="13.6" height="17.8" rx="0" stroke="#000" stroke-width="2.2" fill="none"/>
<rect x="944.6" y="1030.2" width="13.6" height="20.9" rx="0" stroke="#000" stroke-width="2.2" fill="none"/>
<line x1="786.8" y1="1021.8" x2="807.7" y2="1021.8" stroke="#000" stroke-width="2.0" />
<line x1="807.7" y1="1021.8" x2="807.7" y2="1053.1" stroke="#000" stroke-width="2.0" />
<line x1="799.4" y1="1045.3" x2="820.2" y2="1045.3" stroke="#000" stroke-width="3.0" />
<line x1="924.8" y1="1045.3" x2="945.6" y2="1045.3" stroke="#000" stroke-width="3.0" />
<line x1="788.9" y1="1061.5" x2="804.6" y2="1061.5" stroke="#000" stroke-width="3.0" />
<line x1="940.4" y1="1061.5" x2="956.1" y2="1061.5" stroke="#000" stroke-width="3.0" />
<line x1="780.5" y1="1044.8" x2="780.5" y2="1089.7" stroke="#000" stroke-width="3.0" />
<circle cx="872.5" cy="1126.3" r="89.3" stroke="#000" stroke-width="2.6" fill="#fff" />
<path d=" M819.3,1062.0 L832.5,1063.6 Q850.6,1067.8 857.3,1053.1 L863.9,1042.7 L881.1,1042.7 L887.7,1053.1 Q894.4,1067.8 912.5,1063.6 L925.7,1062.0 L936.8,1073.1 L935.2,1086.3 Q931.0,1104.4 945.6,1111.1 L956.1,1117.7 L956.1,1134.9 L945.6,1141.5 Q931.0,1148.2 935.2,1166.3 L936.8,1179.5 L925.7,1190.6 L912.5,1189.0 Q894.4,1184.8 887.7,1199.5 L881.1,1209.9 L863.9,1209.9 L857.3,1199.5 Q850.6,1184.8 832.5,1189.0 L819.3,1190.6 L808.2,1179.5 L809.8,1166.3 Q814.0,1148.2 799.4,1141.5 L788.9,1134.9 L788.9,1117.7 L799.4,1111.1 Q814.0,1104.4 809.8,1086.3 L808.2,1073.1Z" stroke="#000" stroke-width="2.2" fill="none" />
<circle cx="872.5" cy="1126.3" r="56.7" stroke="#000" stroke-width="2.4" fill="none" />
<circle cx="872.5" cy="1126.3" r="48.9" stroke="#000" stroke-width="2.4" fill="none" />
<circle cx="872.5" cy="1126.3" r="32.0" stroke="#000" stroke-width="2.4" fill="none" />
<path d="M867.3,1108.1 L867.3,1101.5 L877.7,1101.5 L877.7,1108.1 A19.5,19.5 0 1 1 867.3,1108.1Z" stroke="#000" stroke-width="2.4" fill="none" />
<circle cx="872.5" cy="1126.3" r="69.0" stroke="#000" stroke-width="1.0" fill="none" stroke-dasharray="16 3 2 3"/>
<circle cx="823.9" cy="1077.7" r="5.7" stroke="#000" stroke-width="2.0" fill="none" />
<line x1="820.4" y1="1074.2" x2="827.4" y2="1081.2" stroke="#000" stroke-width="1.2" />
<line x1="820.4" y1="1081.2" x2="827.4" y2="1074.2" stroke="#000" stroke-width="1.2" />
<circle cx="921.1" cy="1077.7" r="5.7" stroke="#000" stroke-width="2.0" fill="none" />
<line x1="917.6" y1="1074.2" x2="924.6" y2="1081.2" stroke="#000" stroke-width="1.2" />
<line x1="917.6" y1="1081.2" x2="924.6" y2="1074.2" stroke="#000" stroke-width="1.2" />
<circle cx="823.9" cy="1174.9" r="5.7" stroke="#000" stroke-width="2.0" fill="none" />
<line x1="820.4" y1="1171.4" x2="827.4" y2="1178.4" stroke="#000" stroke-width="1.2" />
<line x1="820.4" y1="1178.4" x2="827.4" y2="1171.4" stroke="#000" stroke-width="1.2" />
<circle cx="921.1" cy="1174.9" r="5.7" stroke="#000" stroke-width="2.0" fill="none" />
<line x1="917.6" y1="1171.4" x2="924.6" y2="1178.4" stroke="#000" stroke-width="1.2" />
<line x1="917.6" y1="1178.4" x2="924.6" y2="1171.4" stroke="#000" stroke-width="1.2" />
<rect x="986.4" y="949.0" width="15.7" height="194.3" rx="0" stroke="#000" stroke-width="2.6" fill="none"/>
<line x1="971.0" y1="985.4" x2="986.6" y2="949.0" stroke="#000" stroke-width="2.2" />
<line x1="971.0" y1="1109.4" x2="986.6" y2="1143.2" stroke="#000" stroke-width="2.2" />
<line x1="971.0" y1="985.4" x2="971.0" y2="1109.4" stroke="#000" stroke-width="2.2" />
<rect x="971.8" y="1004.0" width="12.5" height="10.4" rx="0" stroke="#000" stroke-width="1.8" fill="none"/>
<rect x="971.8" y="1040.6" width="12.5" height="10.5" rx="0" stroke="#000" stroke-width="1.8" fill="none"/>
<rect x="971.8" y="1092.9" width="12.5" height="10.5" rx="0" stroke="#000" stroke-width="1.8" fill="none"/>
<line x1="995.4" y1="982.3" x2="995.4" y2="1111.1" stroke="#000" stroke-width="1.4" stroke-dasharray="9 4"/>
<line x1="872.5" y1="964.3" x2="872.5" y2="1246.5" stroke="#000" stroke-width="1.0" stroke-dasharray="14 3 2 3"/>
<line x1="770.1" y1="1126.3" x2="974.9" y2="1126.3" stroke="#000" stroke-width="1.0" stroke-dasharray="14 3 2 3"/>
<line x1="762.8" y1="1045.3" x2="1018.8" y2="1045.3" stroke="#000" stroke-width="1.0" stroke-dasharray="14 3 2 3"/>
<rect x="718.7" y="1034.0" width="49.5" height="23.6" rx="0" stroke="#000" stroke-width="2.6" fill="#fff"/>
<rect x="727.7" y="1029.5" width="32.7" height="5.0" rx="0" stroke="#000" stroke-width="1.8" fill="none"/>
<rect x="768.2" y="1029.5" width="6.8" height="32.5" rx="0" stroke="#000" stroke-width="2.2" fill="#fff"/>
<line x1="705.0" y1="1045.3" x2="790.0" y2="1045.3" stroke="#000" stroke-width="1.0" stroke-dasharray="14 3 2 3"/>
<line x1="720.0" y1="940.0" x2="720.0" y2="1032.0" stroke="#000" stroke-width="1.2" />
<line x1="768.0" y1="940.0" x2="768.0" y2="1030.0" stroke="#000" stroke-width="1.2" />
<line x1="872.5" y1="944.0" x2="872.5" y2="990.0" stroke="#000" stroke-width="1.2" />
<line x1="720.0" y1="950.6" x2="872.5" y2="950.6" stroke="#000" stroke-width="1.3" />
<path d="M720.0,950.6 L733.0,947.4 L733.0,953.8Z" fill="#000"/>
<path d="M768.0,950.6 L755.0,953.8 L755.0,947.4Z" fill="#000"/>
<path d="M768.0,950.6 L781.0,947.4 L781.0,953.8Z" fill="#000"/>
<path d="M872.5,950.6 L859.5,953.8 L859.5,947.4Z" fill="#000"/>
<g transform="translate(744.0,926.5) rotate(0)" fill="none" stroke="#000" stroke-width="2.35" stroke-linecap="round" stroke-linejoin="round"><path transform="translate(-13.00,-12.00) scale(1.1283,1.2000)" d="M0.4,4.5 A4.6,4.6 0 1 1 4.5,9.6 M4.5,9.6 A5,5.2 0 1 1 0,16" vector-effect="non-scaling-stroke"/><path transform="translate(1.72,-12.00) scale(1.1283,1.2000)" d="M0,6 A5,6 0 0 1 10,6 L10,14 A5,6 0 0 1 0,14 Z" vector-effect="non-scaling-stroke"/></g>
<g transform="translate(821.0,926.5) rotate(0)" fill="none" stroke="#000" stroke-width="2.35" stroke-linecap="round" stroke-linejoin="round"><path transform="translate(-13.50,-12.00) scale(1.1717,1.2000)" d="M9.4,3.5 A5,5.6 0 0 0 0,6 L0,14 A5,6 0 0 0 10,14 A5,6 0 0 0 0,14" vector-effect="non-scaling-stroke"/><path transform="translate(1.78,-12.00) scale(1.1717,1.2000)" d="M7.5,20 L7.5,0 L0,14.5 L10,14.5" vector-effect="non-scaling-stroke"/></g>
<line x1="680.0" y1="1034.0" x2="718.0" y2="1034.0" stroke="#000" stroke-width="1.2" />
<line x1="680.0" y1="1057.6" x2="718.0" y2="1057.6" stroke="#000" stroke-width="1.2" />
<line x1="685.4" y1="1010.7" x2="685.4" y2="1176.5" stroke="#000" stroke-width="1.3" />
<path d="M685.4,1034.0 L682.2,1021.0 L688.6,1021.0Z" fill="#000"/>
<path d="M685.4,1057.6 L688.6,1070.6 L682.2,1070.6Z" fill="#000"/>
<g transform="translate(667.5,1128.6) rotate(-90)" fill="none" stroke="#000" stroke-width="2.06" stroke-linecap="round" stroke-linejoin="round"><path transform="translate(-41.50,-10.50) scale(0.9995,1.0500)" d="M5,-1.5 L5,21.5 M5,4.5 A4.8,5.5 0 0 1 5,15.5 A4.8,5.5 0 0 1 5,4.5" vector-effect="non-scaling-stroke"/><path transform="translate(-23.25,-10.50) scale(0.9995,1.0500)" d="M2.5,3.5 L6,0 L6,20" vector-effect="non-scaling-stroke"/><path transform="translate(-5.00,-10.50) scale(0.9995,1.0500)" d="M7.5,20 L7.5,0 L0,14.5 L10,14.5" vector-effect="non-scaling-stroke"/><path transform="translate(13.25,-10.50) scale(0.9995,1.0500)" d="M7,7 L7,22 A3.2,3.2 0 0 1 1,23 M7,1.8 L7,3.2" vector-effect="non-scaling-stroke"/><path transform="translate(31.51,-10.50) scale(0.9995,1.0500)" d="M9.4,3.5 A5,5.6 0 0 0 0,6 L0,14 A5,6 0 0 0 10,14 A5,6 0 0 0 0,14" vector-effect="non-scaling-stroke"/></g>
<g transform="translate(703.0,1164.0) rotate(-70)" fill="none" stroke="#000" stroke-width="0.90" stroke-linecap="round" stroke-linejoin="round"><path transform="translate(-3.00,-4.00) scale(0.6000,0.4000)" d="M10,0 L0,0 L0,20 L10,20 M0,10 L8,10" vector-effect="non-scaling-stroke"/></g>
<circle cx="353.7" cy="1050.0" r="16.6" stroke="#000" stroke-width="2.4" fill="none" />
<circle cx="353.7" cy="1050.0" r="6.0" stroke="#000" stroke-width="2.0" fill="none" />
<line x1="347.4" y1="955.0" x2="347.4" y2="1150.0" stroke="#000" stroke-width="1.2" />
<line x1="359.4" y1="955.0" x2="359.4" y2="1150.0" stroke="#000" stroke-width="1.2" />
<path d="M348.7,1035 L348.7,1031 L358.7,1031 L358.7,1035" stroke="#000" stroke-width="1.5" fill="none" />
<line x1="323.0" y1="969.0" x2="402.7" y2="969.0" stroke="#000" stroke-width="1.3" />
<path d="M347.4,969.0 L334.4,972.2 L334.4,965.8Z" fill="#000"/>
<path d="M359.4,969.0 L372.4,965.8 L372.4,972.2Z" fill="#000"/>
<g transform="translate(395.5,948.0) rotate(0)" fill="none" stroke="#000" stroke-width="2.35" stroke-linecap="round" stroke-linejoin="round"><path transform="translate(-6.00,-12.00) scale(1.2000,1.2000)" d="M9.5,0 L1.2,0 L0.6,9.2 C1.8,8 3.5,7.6 5,7.6 A5,6.2 0 0 1 5,20 C2.6,20 0.6,18.6 0,16.5" vector-effect="non-scaling-stroke"/></g>
<line x1="280.0" y1="1029.0" x2="360.0" y2="1029.0" stroke="#000" stroke-width="1.2" />
<line x1="280.0" y1="1065.0" x2="360.0" y2="1065.0" stroke="#000" stroke-width="1.2" />
<line x1="285.0" y1="970.0" x2="285.0" y2="1090.0" stroke="#000" stroke-width="1.3" />
<path d="M285.0,1029.0 L281.8,1016.0 L288.2,1016.0Z" fill="#000"/>
<path d="M285.0,1065.0 L288.2,1078.0 L281.8,1078.0Z" fill="#000"/>
<g transform="translate(262.0,982.0) rotate(-90)" fill="none" stroke="#000" stroke-width="2.35" stroke-linecap="round" stroke-linejoin="round"><path transform="translate(-13.00,-12.00) scale(1.1283,1.2000)" d="M2.5,3.5 L6,0 L6,20" vector-effect="non-scaling-stroke"/><path transform="translate(1.72,-12.00) scale(1.1283,1.2000)" d="M9.4,3.5 A5,5.6 0 0 0 0,6 L0,14 A5,6 0 0 0 10,14 A5,6 0 0 0 0,14" vector-effect="non-scaling-stroke"/></g>
<line x1="323.0" y1="1146.7" x2="479.6" y2="1146.7" stroke="#000" stroke-width="1.3" />
<path d="M347.4,1146.7 L334.4,1149.9 L334.4,1143.5Z" fill="#000"/>
<path d="M359.4,1146.7 L372.4,1143.5 L372.4,1149.9Z" fill="#000"/>
<g transform="translate(435.0,1123.6) rotate(0)" fill="none" stroke="#000" stroke-width="2.35" stroke-linecap="round" stroke-linejoin="round"><path transform="translate(-44.50,-12.00) scale(1.2257,1.2000)" d="M0,20 L0,0 L5,14 L10,0 L10,20" vector-effect="non-scaling-stroke"/><path transform="translate(-28.51,-12.00) scale(1.2257,1.2000)" d="M9.4,3.5 A5,5.6 0 0 0 0,6 L0,14 A5,6 0 0 0 10,14 A5,6 0 0 0 0,14" vector-effect="non-scaling-stroke"/><path transform="translate(-6.13,-12.00) scale(1.2257,1.2000)" d="M0,0 L10,20 M10,0 L0,20" vector-effect="non-scaling-stroke"/><path transform="translate(16.25,-12.00) scale(1.2257,1.2000)" d="M2.5,3.5 L6,0 L6,20" vector-effect="non-scaling-stroke"/><path transform="translate(32.24,-12.00) scale(1.2257,1.2000)" d="M9.4,3.5 A5,5.6 0 0 0 0,6 L0,14 A5,6 0 0 0 10,14 A5,6 0 0 0 0,14" vector-effect="non-scaling-stroke"/></g>
<line x1="330.0" y1="1050.0" x2="375.0" y2="1050.0" stroke="#000" stroke-width="1.0" stroke-dasharray="14 3 2 3"/>
<line x1="353.7" y1="1025.0" x2="353.7" y2="1075.0" stroke="#000" stroke-width="1.0" stroke-dasharray="14 3 2 3"/>
<circle cx="1327.6" cy="1117.0" r="31.2" stroke="#000" stroke-width="2.6" fill="none" />
<path d="M1322.1,1101.5 L1322.1,1094.8 L1333.1,1094.8 L1333.1,1101.5 A17.2,17.2 0 1 1 1322.1,1101.5Z" stroke="#000" stroke-width="2.6" fill="none" />
<line x1="1292.6" y1="1117.0" x2="1362.6" y2="1117.0" stroke="#000" stroke-width="1.0" stroke-dasharray="14 3 2 3"/>
<line x1="1327.6" y1="1082.0" x2="1327.6" y2="1152.0" stroke="#000" stroke-width="1.0" stroke-dasharray="14 3 2 3"/>
<line x1="1321.5" y1="1015.0" x2="1321.5" y2="1098.0" stroke="#000" stroke-width="1.2" />
<line x1="1332.4" y1="1015.0" x2="1332.4" y2="1098.0" stroke="#000" stroke-width="1.2" />
<line x1="1298.0" y1="1020.8" x2="1389.0" y2="1020.8" stroke="#000" stroke-width="1.3" />
<path d="M1321.5,1020.8 L1308.5,1024.0 L1308.5,1017.6Z" fill="#000"/>
<path d="M1332.4,1020.8 L1345.4,1017.6 L1345.4,1024.0Z" fill="#000"/>
<g transform="translate(1368.0,1000.4) rotate(0)" fill="none" stroke="#000" stroke-width="2.45" stroke-linecap="round" stroke-linejoin="round"><path transform="translate(-6.00,-12.50) scale(1.2000,1.2500)" d="M0,0 L0,20 M0,13.5 A5,6.5 0 0 1 10,13.5 A5,6.5 0 0 1 0,13.5" vector-effect="non-scaling-stroke"/></g>
<g transform="translate(1382.0,1008.0) rotate(0)" fill="none" stroke="#000" stroke-width="1.18" stroke-linecap="round" stroke-linejoin="round"><path transform="translate(-3.00,-6.00) scale(0.6000,0.6000)" d="M2.5,3.5 L6,0 L6,20" vector-effect="non-scaling-stroke"/></g>
<line x1="1245.0" y1="1095.7" x2="1320.0" y2="1095.7" stroke="#000" stroke-width="1.2" />
<line x1="1245.0" y1="1134.3" x2="1320.0" y2="1134.3" stroke="#000" stroke-width="1.2" />
<line x1="1250.9" y1="1072.0" x2="1250.9" y2="1158.7" stroke="#000" stroke-width="1.3" />
<path d="M1250.9,1095.7 L1247.7,1082.7 L1254.1,1082.7Z" fill="#000"/>
<path d="M1250.9,1134.3 L1254.1,1147.3 L1247.7,1147.3Z" fill="#000"/>
<g transform="translate(1231.0,1120.0) rotate(-90)" fill="none" stroke="#000" stroke-width="2.35" stroke-linecap="round" stroke-linejoin="round"><path transform="translate(-5.50,-12.00) scale(1.1000,1.2000)" d="M4,0 L4,16.5 A3.5,3.5 0 0 0 9,19.6 M0,6.5 L9,6.5" vector-effect="non-scaling-stroke"/></g>
<g transform="translate(1236.0,1106.0) rotate(-90)" fill="none" stroke="#000" stroke-width="1.18" stroke-linecap="round" stroke-linejoin="round"><path transform="translate(-3.00,-6.00) scale(0.6000,0.6000)" d="M2.5,3.5 L6,0 L6,20" vector-effect="non-scaling-stroke"/></g>
<defs><pattern id="hatch" patternUnits="userSpaceOnUse" width="3.3" height="3.3" patternTransform="rotate(45)"><line x1="0" y1="0" x2="0" y2="3.3" stroke="#000" stroke-width="1.0"/></pattern></defs>
<path d="M1443.1,1089.3 L1481,1089.3 L1481,1084.4 L1504.5,1084.4 L1504.5,1060 L1534.6,1056.4 L1534.6,1084.4 L1557,1084.4 L1557,1089.3 L1595.4,1089.3 L1595.4,1099 L1550.5,1099 L1545,1098 L1494.6,1098 L1489,1099 L1443.1,1099Z" fill="url(#hatch)" stroke="#000" stroke-width="2.2"/>
<path d="M1443.1,1151.2 L1481,1151.2 L1481,1156 L1504.5,1156 L1504.5,1177 L1534.6,1184.6 L1534.6,1156 L1557,1156 L1557,1151.2 L1595.4,1151.2 L1595.4,1137 L1550.5,1137 L1545,1142.4 L1494.6,1142.4 L1489,1137 L1443.1,1137Z" fill="url(#hatch)" stroke="#000" stroke-width="2.2"/>
<line x1="1443.1" y1="1102.4" x2="1489.0" y2="1102.4" stroke="#000" stroke-width="2.4" />
<line x1="1550.5" y1="1102.4" x2="1595.4" y2="1102.4" stroke="#000" stroke-width="2.4" />
<line x1="1444.6" y1="1099.0" x2="1444.6" y2="1137.0" stroke="#000" stroke-width="2.4" />
<line x1="1593.9" y1="1099.0" x2="1593.9" y2="1137.0" stroke="#000" stroke-width="2.4" />
<line x1="1489.0" y1="1099.0" x2="1489.0" y2="1137.0" stroke="#000" stroke-width="2.4" />
<line x1="1494.6" y1="1098.0" x2="1494.6" y2="1142.4" stroke="#000" stroke-width="2.4" />
<line x1="1545.0" y1="1098.0" x2="1545.0" y2="1142.4" stroke="#000" stroke-width="2.4" />
<line x1="1550.5" y1="1099.0" x2="1550.5" y2="1137.0" stroke="#000" stroke-width="2.4" />
<line x1="1430.0" y1="1119.7" x2="1610.0" y2="1119.7" stroke="#000" stroke-width="1.0" stroke-dasharray="14 3 2 3"/>
<line x1="1443.1" y1="940.0" x2="1443.1" y2="1088.0" stroke="#000" stroke-width="1.2" />
<line x1="1595.4" y1="940.0" x2="1595.4" y2="1088.0" stroke="#000" stroke-width="1.2" />
<line x1="1443.1" y1="950.2" x2="1595.4" y2="950.2" stroke="#000" stroke-width="1.3" />
<path d="M1443.1,950.2 L1456.1,947.0 L1456.1,953.4Z" fill="#000"/>
<path d="M1595.4,950.2 L1582.4,953.4 L1582.4,947.0Z" fill="#000"/>
<g transform="translate(1520.0,927.4) rotate(0)" fill="none" stroke="#000" stroke-width="2.35" stroke-linecap="round" stroke-linejoin="round"><path transform="translate(-14.00,-12.00) scale(1.2151,1.2000)" d="M0.6,16.5 A5,5.6 0 0 0 10,14 L10,6 A5,6 0 0 0 0,6 A5,6 0 0 0 10,6" vector-effect="non-scaling-stroke"/><path transform="translate(1.85,-12.00) scale(1.2151,1.2000)" d="M0.3,5 A4.85,5 0 0 1 10,5 C10,8.5 7,11 0,20 L10,20" vector-effect="non-scaling-stroke"/></g>
<line x1="1489.0" y1="1010.0" x2="1489.0" y2="1100.0" stroke="#000" stroke-width="1.2" />
<line x1="1443.1" y1="1017.0" x2="1489.0" y2="1017.0" stroke="#000" stroke-width="1.3" />
<path d="M1443.1,1017.0 L1456.1,1013.8 L1456.1,1020.2Z" fill="#000"/>
<path d="M1489.0,1017.0 L1476.0,1020.2 L1476.0,1013.8Z" fill="#000"/>
<g transform="translate(1465.4,994.0) rotate(0)" fill="none" stroke="#000" stroke-width="2.35" stroke-linecap="round" stroke-linejoin="round"><path transform="translate(-13.50,-12.00) scale(1.1717,1.2000)" d="M0.4,4.5 A4.6,4.6 0 1 1 4.5,9.6 M4.5,9.6 A5,5.2 0 1 1 0,16" vector-effect="non-scaling-stroke"/><path transform="translate(1.78,-12.00) scale(1.1717,1.2000)" d="M0,6 A5,6 0 0 1 10,6 L10,14 A5,6 0 0 1 0,14 Z" vector-effect="non-scaling-stroke"/></g>
<line x1="1550.0" y1="1020.0" x2="1550.0" y2="1100.0" stroke="#000" stroke-width="1.2" />
<line x1="1550.0" y1="1027.8" x2="1595.4" y2="1027.8" stroke="#000" stroke-width="1.3" />
<path d="M1550.0,1027.8 L1563.0,1024.6 L1563.0,1031.0Z" fill="#000"/>
<path d="M1595.4,1027.8 L1582.4,1031.0 L1582.4,1024.6Z" fill="#000"/>
<g transform="translate(1573.4,1005.0) rotate(0)" fill="none" stroke="#000" stroke-width="2.35" stroke-linecap="round" stroke-linejoin="round"><path transform="translate(-13.50,-12.00) scale(1.1717,1.2000)" d="M0.4,4.5 A4.6,4.6 0 1 1 4.5,9.6 M4.5,9.6 A5,5.2 0 1 1 0,16" vector-effect="non-scaling-stroke"/><path transform="translate(1.78,-12.00) scale(1.1717,1.2000)" d="M0,6 A5,6 0 0 1 10,6 L10,14 A5,6 0 0 1 0,14 Z" vector-effect="non-scaling-stroke"/></g>
<line x1="1595.4" y1="1135.8" x2="1663.0" y2="1135.8" stroke="#000" stroke-width="1.2" />
<line x1="1660.0" y1="1093.0" x2="1660.0" y2="1135.8" stroke="#000" stroke-width="1.3" />
<path d="M1660.0,1135.8 L1656.8,1122.8 L1663.2,1122.8Z" fill="#000"/>
<g transform="translate(1637.4,1122.0) rotate(-90)" fill="none" stroke="#000" stroke-width="2.35" stroke-linecap="round" stroke-linejoin="round"><path transform="translate(-6.50,-12.00) scale(1.3000,1.2000)" d="M0,0 L3.5,0 C8.5,0 10,4.5 10,10 C10,15.5 8.5,20 3.5,20 L0,20 Z" vector-effect="non-scaling-stroke"/></g>
<g transform="translate(1645.0,1106.0) rotate(-90)" fill="none" stroke="#000" stroke-width="1.18" stroke-linecap="round" stroke-linejoin="round"><path transform="translate(-3.00,-6.00) scale(0.6000,0.6000)" d="M2.5,3.5 L6,0 L6,20" vector-effect="non-scaling-stroke"/></g>
<circle cx="1518.0" cy="582.0" r="93.0" stroke="#000" stroke-width="2.4" fill="none" />
<path d="M1447.0,574.0 L1452.0,530.0 L1585.0,530.0 L1590.0,574.0 L1593.0,762.0 L1443.0,762.0Z" fill="#fff"/>
<rect x="1452.0" y="530.0" width="28.0" height="52.0" rx="0" stroke="#000" stroke-width="2.4" fill="none"/>
<rect x="1556.0" y="530.0" width="29.0" height="52.0" rx="0" stroke="#000" stroke-width="2.4" fill="none"/>
<rect x="1452.0" y="703.0" width="28.0" height="51.0" rx="0" stroke="#000" stroke-width="2.4" fill="none"/>
<rect x="1556.0" y="703.0" width="29.0" height="51.0" rx="0" stroke="#000" stroke-width="2.4" fill="none"/>
<line x1="1452.0" y1="582.0" x2="1452.0" y2="703.0" stroke="#000" stroke-width="2.6" />
<line x1="1482.0" y1="582.0" x2="1482.0" y2="703.0" stroke="#000" stroke-width="2.6" />
<line x1="1585.0" y1="582.0" x2="1585.0" y2="703.0" stroke="#000" stroke-width="2.6" />
<line x1="1554.5" y1="582.0" x2="1554.5" y2="703.0" stroke="#000" stroke-width="2.6" />
<line x1="1452.0" y1="582.0" x2="1480.0" y2="582.0" stroke="#000" stroke-width="4.0" />
<line x1="1556.0" y1="582.0" x2="1585.0" y2="582.0" stroke="#000" stroke-width="4.0" />
<line x1="1452.0" y1="703.0" x2="1480.0" y2="703.0" stroke="#000" stroke-width="4.0" />
<line x1="1556.0" y1="703.0" x2="1585.0" y2="703.0" stroke="#000" stroke-width="4.0" />
<line x1="1480.0" y1="538.0" x2="1556.0" y2="538.0" stroke="#000" stroke-width="2.4" />
<path d="M1488.0,534.0 Q1518.0,522.0 1548.0,534.0" stroke="#000" stroke-width="3.0" fill="none" />
<line x1="1480.0" y1="548.0" x2="1488.0" y2="552.0" stroke="#000" stroke-width="2.2" />
<line x1="1556.0" y1="548.0" x2="1548.0" y2="552.0" stroke="#000" stroke-width="2.2" />
<circle cx="1485.0" cy="549.8" r="8.0" stroke="#000" stroke-width="2.2" fill="#fff" />
<circle cx="1551.0" cy="549.8" r="8.0" stroke="#000" stroke-width="2.2" fill="#fff" />
<circle cx="1485.0" cy="615.8" r="8.0" stroke="#000" stroke-width="2.2" fill="#fff" />
<circle cx="1551.0" cy="615.8" r="8.0" stroke="#000" stroke-width="2.2" fill="#fff" />
<circle cx="1518.0" cy="582.0" r="41.0" stroke="#000" stroke-width="2.2" fill="#fff" />
<circle cx="1485.0" cy="549.8" r="4.2" stroke="#000" stroke-width="2.0" fill="none" />
<circle cx="1551.0" cy="549.8" r="4.2" stroke="#000" stroke-width="2.0" fill="none" />
<circle cx="1485.0" cy="615.8" r="4.2" stroke="#000" stroke-width="2.0" fill="none" />
<circle cx="1551.0" cy="615.8" r="4.2" stroke="#000" stroke-width="2.0" fill="none" />
<circle cx="1518.0" cy="582.0" r="38.0" stroke="#000" stroke-width="3.6" fill="none" />
<circle cx="1518.0" cy="582.0" r="30.0" stroke="#000" stroke-width="2.4" fill="none" />
<line x1="1493.6" y1="676.0" x2="1493.6" y2="738.0" stroke="#000" stroke-width="2.4" />
<line x1="1542.8" y1="676.0" x2="1542.8" y2="738.0" stroke="#000" stroke-width="2.4" />
<line x1="1493.6" y1="738.0" x2="1480.0" y2="749.0" stroke="#000" stroke-width="2.4" />
<line x1="1542.8" y1="738.0" x2="1556.0" y2="749.0" stroke="#000" stroke-width="2.4" />
<line x1="1493.6" y1="732.0" x2="1504.0" y2="732.0" stroke="#000" stroke-width="2.0" />
<line x1="1532.5" y1="739.0" x2="1542.8" y2="739.0" stroke="#000" stroke-width="2.0" />
<rect x="1488.0" y="629.0" width="60.6" height="45.7" rx="5.0" stroke="#000" stroke-width="2.4" fill="#fff"/>
<line x1="1503.0" y1="674.7" x2="1503.0" y2="741.6" stroke="#000" stroke-width="4.5" />
<line x1="1518.0" y1="674.7" x2="1518.0" y2="741.6" stroke="#000" stroke-width="4.5" />
<line x1="1532.5" y1="674.7" x2="1532.5" y2="741.6" stroke="#000" stroke-width="4.5" />
<circle cx="1464.0" cy="559.5" r="7.0" stroke="#000" stroke-width="2.0" fill="none" />
<line x1="1453.0" y1="559.5" x2="1475.0" y2="559.5" stroke="#000" stroke-width="1.0" />
<line x1="1464.0" y1="548.5" x2="1464.0" y2="570.5" stroke="#000" stroke-width="1.0" />
<circle cx="1572.5" cy="559.5" r="7.0" stroke="#000" stroke-width="2.0" fill="none" />
<line x1="1561.5" y1="559.5" x2="1583.5" y2="559.5" stroke="#000" stroke-width="1.0" />
<line x1="1572.5" y1="548.5" x2="1572.5" y2="570.5" stroke="#000" stroke-width="1.0" />
<circle cx="1464.0" cy="721.5" r="7.0" stroke="#000" stroke-width="2.0" fill="none" />
<line x1="1453.0" y1="721.5" x2="1475.0" y2="721.5" stroke="#000" stroke-width="1.0" />
<line x1="1464.0" y1="710.5" x2="1464.0" y2="732.5" stroke="#000" stroke-width="1.0" />
<circle cx="1572.5" cy="721.5" r="7.0" stroke="#000" stroke-width="2.0" fill="none" />
<line x1="1561.5" y1="721.5" x2="1583.5" y2="721.5" stroke="#000" stroke-width="1.0" />
<line x1="1572.5" y1="710.5" x2="1572.5" y2="732.5" stroke="#000" stroke-width="1.0" />
<path d="M1458.0,530.0 A6.0,6.0 0 0 1 1470.0,530.0" stroke="#000" stroke-width="2.0" fill="none" />
<path d="M1566.5,530.0 A6.0,6.0 0 0 1 1578.5,530.0" stroke="#000" stroke-width="2.0" fill="none" />
<line x1="1448.0" y1="607.7" x2="1448.0" y2="713.5" stroke="#000" stroke-width="4.5" />
<line x1="1589.5" y1="607.7" x2="1589.5" y2="713.5" stroke="#000" stroke-width="4.5" />
<line x1="1450.5" y1="602.0" x2="1450.5" y2="722.0" stroke="#000" stroke-width="1.4" />
<line x1="1587.5" y1="602.0" x2="1587.5" y2="722.0" stroke="#000" stroke-width="1.4" />
<line x1="1518.0" y1="498.0" x2="1518.0" y2="524.0" stroke="#000" stroke-width="4.0" />
<line x1="1435.0" y1="582.0" x2="1452.0" y2="582.0" stroke="#000" stroke-width="2.6" />
<line x1="1585.0" y1="582.0" x2="1601.0" y2="582.0" stroke="#000" stroke-width="2.6" />
<line x1="1518.0" y1="482.0" x2="1518.0" y2="758.0" stroke="#000" stroke-width="1.0" stroke-dasharray="14 3 2 3"/>
<line x1="1418.0" y1="582.0" x2="1618.0" y2="582.0" stroke="#000" stroke-width="1.0" stroke-dasharray="14 3 2 3"/>
<line x1="1440.0" y1="660.0" x2="1600.0" y2="660.0" stroke="#000" stroke-width="1.0" stroke-dasharray="14 3 2 3"/>
<line x1="1447.0" y1="400.0" x2="1447.0" y2="612.0" stroke="#000" stroke-width="1.2" />
<line x1="1589.0" y1="400.0" x2="1589.0" y2="612.0" stroke="#000" stroke-width="1.2" />
<line x1="1452.0" y1="455.0" x2="1452.0" y2="528.0" stroke="#000" stroke-width="1.2" />
<line x1="1585.0" y1="455.0" x2="1585.0" y2="528.0" stroke="#000" stroke-width="1.2" />
<line x1="1447.0" y1="412.2" x2="1589.0" y2="412.2" stroke="#000" stroke-width="1.3" />
<path d="M1447.0,412.2 L1460.0,409.0 L1460.0,415.4Z" fill="#000"/>
<path d="M1589.0,412.2 L1576.0,415.4 L1576.0,409.0Z" fill="#000"/>
<g transform="translate(1518.0,389.5) rotate(0)" fill="none" stroke="#000" stroke-width="2.35" stroke-linecap="round" stroke-linejoin="round"><path transform="translate(-14.00,-12.00) scale(1.2151,1.2000)" d="M0.6,16.5 A5,5.6 0 0 0 10,14 L10,6 A5,6 0 0 0 0,6 A5,6 0 0 0 10,6" vector-effect="non-scaling-stroke"/><path transform="translate(1.85,-12.00) scale(1.2151,1.2000)" d="M0.3,5 A4.85,5 0 0 1 10,5 C10,8.5 7,11 0,20 L10,20" vector-effect="non-scaling-stroke"/></g>
<line x1="1451.0" y1="463.0" x2="1585.0" y2="463.0" stroke="#000" stroke-width="1.3" />
<path d="M1451.0,463.0 L1464.0,459.8 L1464.0,466.2Z" fill="#000"/>
<path d="M1585.0,463.0 L1572.0,466.2 L1572.0,459.8Z" fill="#000"/>
<g transform="translate(1518.0,440.3) rotate(0)" fill="none" stroke="#000" stroke-width="2.35" stroke-linecap="round" stroke-linejoin="round"><path transform="translate(-14.00,-12.00) scale(1.2151,1.2000)" d="M5,0 A4.4,4.8 0 0 1 5,9.6 A4.4,4.8 0 0 1 5,0 M5,9.6 A5,5.2 0 0 1 5,20 A5,5.2 0 0 1 5,9.6" vector-effect="non-scaling-stroke"/><path transform="translate(1.85,-12.00) scale(1.2151,1.2000)" d="M0,0 L10,0 L3.6,20" vector-effect="non-scaling-stroke"/></g>
<line x1="1293.0" y1="530.0" x2="1450.0" y2="530.0" stroke="#000" stroke-width="1.2" />
<line x1="1293.0" y1="754.0" x2="1450.0" y2="754.0" stroke="#000" stroke-width="1.2" />
<line x1="1335.0" y1="660.0" x2="1450.0" y2="660.0" stroke="#000" stroke-width="1.2" />
<line x1="1380.0" y1="561.0" x2="1460.0" y2="561.0" stroke="#000" stroke-width="1.2" />
<line x1="1380.0" y1="721.5" x2="1460.0" y2="721.5" stroke="#000" stroke-width="1.2" />
<line x1="1298.0" y1="530.0" x2="1298.0" y2="754.0" stroke="#000" stroke-width="1.3" />
<path d="M1298.0,530.0 L1301.2,543.0 L1294.8,543.0Z" fill="#000"/>
<path d="M1298.0,754.0 L1294.8,741.0 L1301.2,741.0Z" fill="#000"/>
<g transform="translate(1274.0,641.0) rotate(-90)" fill="none" stroke="#000" stroke-width="2.35" stroke-linecap="round" stroke-linejoin="round"><path transform="translate(-20.75,-12.00) scale(1.1500,1.2000)" d="M2.5,3.5 L6,0 L6,20" vector-effect="non-scaling-stroke"/><path transform="translate(-5.75,-12.00) scale(1.1500,1.2000)" d="M7.5,20 L7.5,0 L0,14.5 L10,14.5" vector-effect="non-scaling-stroke"/><path transform="translate(9.25,-12.00) scale(1.1500,1.2000)" d="M7.5,20 L7.5,0 L0,14.5 L10,14.5" vector-effect="non-scaling-stroke"/></g>
<line x1="1339.7" y1="530.0" x2="1339.7" y2="754.0" stroke="#000" stroke-width="1.3" />
<path d="M1339.7,530.0 L1342.9,543.0 L1336.5,543.0Z" fill="#000"/>
<path d="M1339.7,660.0 L1336.5,647.0 L1342.9,647.0Z" fill="#000"/>
<path d="M1339.7,660.0 L1342.9,673.0 L1336.5,673.0Z" fill="#000"/>
<path d="M1339.7,754.0 L1336.5,741.0 L1342.9,741.0Z" fill="#000"/>
<g transform="translate(1315.6,593.0) rotate(-90)" fill="none" stroke="#000" stroke-width="2.35" stroke-linecap="round" stroke-linejoin="round"><path transform="translate(-14.00,-12.00) scale(1.2151,1.2000)" d="M5,0 A4.4,4.8 0 0 1 5,9.6 A4.4,4.8 0 0 1 5,0 M5,9.6 A5,5.2 0 0 1 5,20 A5,5.2 0 0 1 5,9.6" vector-effect="non-scaling-stroke"/><path transform="translate(1.85,-12.00) scale(1.2151,1.2000)" d="M7.5,20 L7.5,0 L0,14.5 L10,14.5" vector-effect="non-scaling-stroke"/></g>
<g transform="translate(1315.6,705.5) rotate(-90)" fill="none" stroke="#000" stroke-width="2.35" stroke-linecap="round" stroke-linejoin="round"><path transform="translate(-14.00,-12.00) scale(1.2151,1.2000)" d="M9.4,3.5 A5,5.6 0 0 0 0,6 L0,14 A5,6 0 0 0 10,14 A5,6 0 0 0 0,14" vector-effect="non-scaling-stroke"/><path transform="translate(1.85,-12.00) scale(1.2151,1.2000)" d="M0,6 A5,6 0 0 1 10,6 L10,14 A5,6 0 0 1 0,14 Z" vector-effect="non-scaling-stroke"/></g>
<line x1="1382.6" y1="561.0" x2="1382.6" y2="721.5" stroke="#000" stroke-width="1.3" />
<path d="M1382.6,561.0 L1385.8,574.0 L1379.4,574.0Z" fill="#000"/>
<path d="M1382.6,660.0 L1379.4,647.0 L1385.8,647.0Z" fill="#000"/>
<path d="M1382.6,660.0 L1385.8,673.0 L1379.4,673.0Z" fill="#000"/>
<path d="M1382.6,721.5 L1379.4,708.5 L1385.8,708.5Z" fill="#000"/>
<g transform="translate(1361.0,609.0) rotate(-90)" fill="none" stroke="#000" stroke-width="2.35" stroke-linecap="round" stroke-linejoin="round"><path transform="translate(-14.00,-12.00) scale(1.2151,1.2000)" d="M9.4,3.5 A5,5.6 0 0 0 0,6 L0,14 A5,6 0 0 0 10,14 A5,6 0 0 0 0,14" vector-effect="non-scaling-stroke"/><path transform="translate(1.85,-12.00) scale(1.2151,1.2000)" d="M7.5,20 L7.5,0 L0,14.5 L10,14.5" vector-effect="non-scaling-stroke"/></g>
<g transform="translate(1361.0,692.0) rotate(-90)" fill="none" stroke="#000" stroke-width="2.35" stroke-linecap="round" stroke-linejoin="round"><path transform="translate(-14.00,-12.00) scale(1.2151,1.2000)" d="M7.5,20 L7.5,0 L0,14.5 L10,14.5" vector-effect="non-scaling-stroke"/><path transform="translate(1.85,-12.00) scale(1.2151,1.2000)" d="M0,6 A5,6 0 0 1 10,6 L10,14 A5,6 0 0 1 0,14 Z" vector-effect="non-scaling-stroke"/></g>
<line x1="1425.0" y1="590.0" x2="1425.0" y2="660.0" stroke="#000" stroke-width="1.3" />
<path d="M1425.0,660.0 L1421.8,647.0 L1428.2,647.0Z" fill="#000"/>
<path d="M1425.0,592.0 L1428.2,605.0 L1421.8,605.0Z" fill="#000"/>
<g transform="translate(1401.0,622.5) rotate(-90)" fill="none" stroke="#000" stroke-width="2.35" stroke-linecap="round" stroke-linejoin="round"><path transform="translate(-14.00,-12.00) scale(1.2151,1.2000)" d="M9.5,0 L1.2,0 L0.6,9.2 C1.8,8 3.5,7.6 5,7.6 A5,6.2 0 0 1 5,20 C2.6,20 0.6,18.6 0,16.5" vector-effect="non-scaling-stroke"/><path transform="translate(1.85,-12.00) scale(1.2151,1.2000)" d="M0,6 A5,6 0 0 1 10,6 L10,14 A5,6 0 0 1 0,14 Z" vector-effect="non-scaling-stroke"/></g>
<line x1="1592.0" y1="606.0" x2="1664.0" y2="606.0" stroke="#000" stroke-width="1.2" />
<line x1="1592.0" y1="715.0" x2="1664.0" y2="715.0" stroke="#000" stroke-width="1.2" />
<line x1="1659.7" y1="606.0" x2="1659.7" y2="715.0" stroke="#000" stroke-width="1.3" />
<path d="M1659.7,606.0 L1662.9,619.0 L1656.5,619.0Z" fill="#000"/>
<path d="M1659.7,715.0 L1656.5,702.0 L1662.9,702.0Z" fill="#000"/>
<g transform="translate(1637.0,649.0) rotate(-90)" fill="none" stroke="#000" stroke-width="2.35" stroke-linecap="round" stroke-linejoin="round"><path transform="translate(-42.00,-12.00) scale(1.3510,1.2000)" d="M5,-1.5 L5,21.5 M5,4.5 A4.8,5.5 0 0 1 5,15.5 A4.8,5.5 0 0 1 5,4.5" vector-effect="non-scaling-stroke"/><path transform="translate(-24.38,-12.00) scale(1.3510,1.2000)" d="M0,0 L10,0 L3.6,20" vector-effect="non-scaling-stroke"/><path transform="translate(-6.76,-12.00) scale(1.3510,1.2000)" d="M0,6 A5,6 0 0 1 10,6 L10,14 A5,6 0 0 1 0,14 Z" vector-effect="non-scaling-stroke"/><path transform="translate(10.87,-12.00) scale(1.3510,1.2000)" d="M0,0 L0,20 M0,12 A5,5 0 0 1 10,12 L10,20" vector-effect="non-scaling-stroke"/><path transform="translate(28.49,-12.00) scale(1.3510,1.2000)" d="M5,0 A4.4,4.8 0 0 1 5,9.6 A4.4,4.8 0 0 1 5,0 M5,9.6 A5,5.2 0 0 1 5,20 A5,5.2 0 0 1 5,9.6" vector-effect="non-scaling-stroke"/></g>
<line x1="1480.0" y1="756.0" x2="1480.0" y2="806.0" stroke="#000" stroke-width="1.2" />
<line x1="1556.6" y1="756.0" x2="1556.6" y2="806.0" stroke="#000" stroke-width="1.2" />
<line x1="1480.0" y1="799.0" x2="1556.6" y2="799.0" stroke="#000" stroke-width="1.3" />
<path d="M1480.0,799.0 L1493.0,795.8 L1493.0,802.2Z" fill="#000"/>
<path d="M1556.6,799.0 L1543.6,802.2 L1543.6,795.8Z" fill="#000"/>
<g transform="translate(1518.0,772.0) rotate(0)" fill="none" stroke="#000" stroke-width="2.35" stroke-linecap="round" stroke-linejoin="round"><path transform="translate(-14.00,-12.00) scale(1.2151,1.2000)" d="M7.5,20 L7.5,0 L0,14.5 L10,14.5" vector-effect="non-scaling-stroke"/><path transform="translate(1.85,-12.00) scale(1.2151,1.2000)" d="M0.6,16.5 A5,5.6 0 0 0 10,14 L10,6 A5,6 0 0 0 0,6 A5,6 0 0 0 10,6" vector-effect="non-scaling-stroke"/></g>
<line x1="1464.0" y1="725.0" x2="1464.0" y2="852.0" stroke="#000" stroke-width="1.2" />
<line x1="1572.7" y1="725.0" x2="1572.7" y2="852.0" stroke="#000" stroke-width="1.2" />
<line x1="1464.0" y1="846.0" x2="1572.7" y2="846.0" stroke="#000" stroke-width="1.3" />
<path d="M1464.0,846.0 L1477.0,842.8 L1477.0,849.2Z" fill="#000"/>
<path d="M1572.7,846.0 L1559.7,849.2 L1559.7,842.8Z" fill="#000"/>
<g transform="translate(1518.0,818.0) rotate(0)" fill="none" stroke="#000" stroke-width="2.35" stroke-linecap="round" stroke-linejoin="round"><path transform="translate(-14.00,-12.00) scale(1.2151,1.2000)" d="M0,0 L10,0 L3.6,20" vector-effect="non-scaling-stroke"/><path transform="translate(1.85,-12.00) scale(1.2151,1.2000)" d="M0,6 A5,6 0 0 1 10,6 L10,14 A5,6 0 0 1 0,14 Z" vector-effect="non-scaling-stroke"/></g>
<line x1="1452.0" y1="756.0" x2="1452.0" y2="898.0" stroke="#000" stroke-width="1.2" />
<line x1="1585.0" y1="756.0" x2="1585.0" y2="898.0" stroke="#000" stroke-width="1.2" />
<line x1="1452.0" y1="891.6" x2="1585.0" y2="891.6" stroke="#000" stroke-width="1.3" />
<path d="M1452.0,891.6 L1465.0,888.4 L1465.0,894.8Z" fill="#000"/>
<path d="M1585.0,891.6 L1572.0,894.8 L1572.0,888.4Z" fill="#000"/>
<g transform="translate(1518.0,861.0) rotate(0)" fill="none" stroke="#000" stroke-width="2.35" stroke-linecap="round" stroke-linejoin="round"><path transform="translate(-14.00,-12.00) scale(1.2151,1.2000)" d="M5,0 A4.4,4.8 0 0 1 5,9.6 A4.4,4.8 0 0 1 5,0 M5,9.6 A5,5.2 0 0 1 5,20 A5,5.2 0 0 1 5,9.6" vector-effect="non-scaling-stroke"/><path transform="translate(1.85,-12.00) scale(1.2151,1.2000)" d="M9.5,0 L1.2,0 L0.6,9.2 C1.8,8 3.5,7.6 5,7.6 A5,6.2 0 0 1 5,20 C2.6,20 0.6,18.6 0,16.5" vector-effect="non-scaling-stroke"/></g>
<line x1="1326.0" y1="810.0" x2="1414.7" y2="810.0" stroke="#000" stroke-width="1.2" />
<line x1="1414.7" y1="810.0" x2="1479.0" y2="696.0" stroke="#000" stroke-width="1.2" />
<g transform="translate(1364.0,786.0) rotate(0)" fill="none" stroke="#000" stroke-width="2.35" stroke-linecap="round" stroke-linejoin="round"><path transform="translate(-32.00,-12.00) scale(1.2216,1.2000)" d="M5,-1.5 L5,21.5 M5,4.5 A4.8,5.5 0 0 1 5,15.5 A4.8,5.5 0 0 1 5,4.5" vector-effect="non-scaling-stroke"/><path transform="translate(-9.69,-12.00) scale(1.2216,1.2000)" d="M5,0 A4.4,4.8 0 0 1 5,9.6 A4.4,4.8 0 0 1 5,0 M5,9.6 A5,5.2 0 0 1 5,20 A5,5.2 0 0 1 5,9.6" vector-effect="non-scaling-stroke"/><circle cx="8.90" cy="10.59" r="1.76" fill="#000" stroke="none"/><path transform="translate(19.78,-12.00) scale(1.2216,1.2000)" d="M9.5,0 L1.2,0 L0.6,9.2 C1.8,8 3.5,7.6 5,7.6 A5,6.2 0 0 1 5,20 C2.6,20 0.6,18.6 0,16.5" vector-effect="non-scaling-stroke"/></g>
<circle cx="1025.8" cy="1450.0" r="87.4" stroke="#000" stroke-width="2.4" fill="none" />
<path d="M959.1,1442.5 L963.8,1401.1 L1088.8,1401.1 L1093.5,1442.5 L1096.3,1619.2 L955.3,1619.2Z" fill="#fff"/>
<rect x="963.8" y="1401.1" width="26.3" height="48.9" rx="0" stroke="#000" stroke-width="2.4" fill="none"/>
<rect x="1061.5" y="1401.1" width="27.3" height="48.9" rx="0" stroke="#000" stroke-width="2.4" fill="none"/>
<rect x="963.8" y="1563.7" width="26.3" height="47.9" rx="0" stroke="#000" stroke-width="2.4" fill="none"/>
<rect x="1061.5" y="1563.7" width="27.3" height="47.9" rx="0" stroke="#000" stroke-width="2.4" fill="none"/>
<line x1="963.8" y1="1450.0" x2="963.8" y2="1563.7" stroke="#000" stroke-width="2.6" />
<line x1="992.0" y1="1450.0" x2="992.0" y2="1563.7" stroke="#000" stroke-width="2.6" />
<line x1="1088.8" y1="1450.0" x2="1088.8" y2="1563.7" stroke="#000" stroke-width="2.6" />
<line x1="1060.1" y1="1450.0" x2="1060.1" y2="1563.7" stroke="#000" stroke-width="2.6" />
<line x1="963.8" y1="1450.0" x2="990.1" y2="1450.0" stroke="#000" stroke-width="4.0" />
<line x1="1061.5" y1="1450.0" x2="1088.8" y2="1450.0" stroke="#000" stroke-width="4.0" />
<line x1="963.8" y1="1563.7" x2="990.1" y2="1563.7" stroke="#000" stroke-width="4.0" />
<line x1="1061.5" y1="1563.7" x2="1088.8" y2="1563.7" stroke="#000" stroke-width="4.0" />
<line x1="990.1" y1="1408.6" x2="1061.5" y2="1408.6" stroke="#000" stroke-width="2.4" />
<path d="M997.6,1404.9 Q1025.8,1393.6 1054.0,1404.9" stroke="#000" stroke-width="3.0" fill="none" />
<line x1="990.1" y1="1418.0" x2="997.6" y2="1421.8" stroke="#000" stroke-width="2.2" />
<line x1="1061.5" y1="1418.0" x2="1054.0" y2="1421.8" stroke="#000" stroke-width="2.2" />
<circle cx="994.8" cy="1419.7" r="7.5" stroke="#000" stroke-width="2.2" fill="#fff" />
<circle cx="1056.8" cy="1419.7" r="7.5" stroke="#000" stroke-width="2.2" fill="#fff" />
<circle cx="994.8" cy="1481.8" r="7.5" stroke="#000" stroke-width="2.2" fill="#fff" />
<circle cx="1056.8" cy="1481.8" r="7.5" stroke="#000" stroke-width="2.2" fill="#fff" />
<circle cx="1025.8" cy="1450.0" r="38.5" stroke="#000" stroke-width="2.2" fill="#fff" />
<circle cx="994.8" cy="1419.7" r="3.9" stroke="#000" stroke-width="2.0" fill="none" />
<circle cx="1056.8" cy="1419.7" r="3.9" stroke="#000" stroke-width="2.0" fill="none" />
<circle cx="994.8" cy="1481.8" r="3.9" stroke="#000" stroke-width="2.0" fill="none" />
<circle cx="1056.8" cy="1481.8" r="3.9" stroke="#000" stroke-width="2.0" fill="none" />
<circle cx="1025.8" cy="1450.0" r="35.7" stroke="#000" stroke-width="3.6" fill="none" />
<circle cx="1025.8" cy="1450.0" r="28.2" stroke="#000" stroke-width="2.4" fill="none" />
<line x1="1002.9" y1="1538.4" x2="1002.9" y2="1596.6" stroke="#000" stroke-width="2.4" />
<line x1="1049.1" y1="1538.4" x2="1049.1" y2="1596.6" stroke="#000" stroke-width="2.4" />
<line x1="1002.9" y1="1596.6" x2="990.1" y2="1607.0" stroke="#000" stroke-width="2.4" />
<line x1="1049.1" y1="1596.6" x2="1061.5" y2="1607.0" stroke="#000" stroke-width="2.4" />
<line x1="1002.9" y1="1591.0" x2="1012.6" y2="1591.0" stroke="#000" stroke-width="2.0" />
<line x1="1039.4" y1="1597.6" x2="1049.1" y2="1597.6" stroke="#000" stroke-width="2.0" />
<rect x="997.6" y="1494.2" width="57.0" height="43.0" rx="4.699999999999999" stroke="#000" stroke-width="2.4" fill="#fff"/>
<line x1="1011.7" y1="1537.1" x2="1011.7" y2="1600.0" stroke="#000" stroke-width="4.5" />
<line x1="1025.8" y1="1537.1" x2="1025.8" y2="1600.0" stroke="#000" stroke-width="4.5" />
<line x1="1039.4" y1="1537.1" x2="1039.4" y2="1600.0" stroke="#000" stroke-width="4.5" />
<circle cx="975.0" cy="1428.8" r="6.6" stroke="#000" stroke-width="2.0" fill="none" />
<line x1="964.7" y1="1428.8" x2="985.4" y2="1428.8" stroke="#000" stroke-width="1.0" />
<line x1="975.0" y1="1418.5" x2="975.0" y2="1439.2" stroke="#000" stroke-width="1.0" />
<circle cx="1077.0" cy="1428.8" r="6.6" stroke="#000" stroke-width="2.0" fill="none" />
<line x1="1066.7" y1="1428.8" x2="1087.4" y2="1428.8" stroke="#000" stroke-width="1.0" />
<line x1="1077.0" y1="1418.5" x2="1077.0" y2="1439.2" stroke="#000" stroke-width="1.0" />
<circle cx="975.0" cy="1581.1" r="6.6" stroke="#000" stroke-width="2.0" fill="none" />
<line x1="964.7" y1="1581.1" x2="985.4" y2="1581.1" stroke="#000" stroke-width="1.0" />
<line x1="975.0" y1="1570.8" x2="975.0" y2="1591.5" stroke="#000" stroke-width="1.0" />
<circle cx="1077.0" cy="1581.1" r="6.6" stroke="#000" stroke-width="2.0" fill="none" />
<line x1="1066.7" y1="1581.1" x2="1087.4" y2="1581.1" stroke="#000" stroke-width="1.0" />
<line x1="1077.0" y1="1570.8" x2="1077.0" y2="1591.5" stroke="#000" stroke-width="1.0" />
<path d="M969.4,1401.1 A5.6,5.6 0 0 1 980.7,1401.1" stroke="#000" stroke-width="2.0" fill="none" />
<path d="M1071.4,1401.1 A5.6,5.6 0 0 1 1082.7,1401.1" stroke="#000" stroke-width="2.0" fill="none" />
<line x1="960.0" y1="1474.2" x2="960.0" y2="1573.6" stroke="#000" stroke-width="4.5" />
<line x1="1093.0" y1="1474.2" x2="1093.0" y2="1573.6" stroke="#000" stroke-width="4.5" />
<line x1="962.3" y1="1468.8" x2="962.3" y2="1581.6" stroke="#000" stroke-width="1.4" />
<line x1="1091.1" y1="1468.8" x2="1091.1" y2="1581.6" stroke="#000" stroke-width="1.4" />
<line x1="1025.8" y1="1371.0" x2="1025.8" y2="1395.5" stroke="#000" stroke-width="4.0" />
<line x1="947.8" y1="1450.0" x2="963.8" y2="1450.0" stroke="#000" stroke-width="2.6" />
<line x1="1088.8" y1="1450.0" x2="1103.8" y2="1450.0" stroke="#000" stroke-width="2.6" />
<line x1="1025.8" y1="1356.0" x2="1025.8" y2="1615.4" stroke="#000" stroke-width="1.0" stroke-dasharray="14 3 2 3"/>
<line x1="931.8" y1="1450.0" x2="1119.8" y2="1450.0" stroke="#000" stroke-width="1.0" stroke-dasharray="14 3 2 3"/>
<rect x="1087.8" y="1449.0" width="12.2" height="150.0" rx="0" stroke="#000" stroke-width="2.2" fill="#fff"/>
<rect x="1100.0" y="1453.7" width="43.0" height="138.3" rx="0" stroke="#000" stroke-width="2.6" fill="#fff"/>
<rect x="1144.0" y="1442.4" width="13.6" height="161.1" rx="2" stroke="#000" stroke-width="2.6" fill="#fff"/>
<line x1="1149.7" y1="1471.7" x2="1149.7" y2="1573.7" stroke="#000" stroke-width="1.4" stroke-dasharray="8 4"/>
<line x1="945.0" y1="1522.4" x2="1165.0" y2="1522.4" stroke="#000" stroke-width="1.0" stroke-dasharray="14 3 2 3"/>
<line x1="1025.8" y1="1298.0" x2="1025.8" y2="1360.0" stroke="#000" stroke-width="1.2" />
<line x1="1157.6" y1="1298.0" x2="1157.6" y2="1442.0" stroke="#000" stroke-width="1.2" />
<line x1="1025.8" y1="1305.0" x2="1157.6" y2="1305.0" stroke="#000" stroke-width="1.3" />
<path d="M1025.8,1305.0 L1038.8,1301.8 L1038.8,1308.2Z" fill="#000"/>
<path d="M1157.6,1305.0 L1144.6,1308.2 L1144.6,1301.8Z" fill="#000"/>
<g transform="translate(1091.0,1282.5) rotate(0)" fill="none" stroke="#000" stroke-width="2.35" stroke-linecap="round" stroke-linejoin="round"><path transform="translate(-13.50,-12.00) scale(1.1717,1.2000)" d="M0.6,16.5 A5,5.6 0 0 0 10,14 L10,6 A5,6 0 0 0 0,6 A5,6 0 0 0 10,6" vector-effect="non-scaling-stroke"/><path transform="translate(1.78,-12.00) scale(1.1717,1.2000)" d="M0,6 A5,6 0 0 1 10,6 L10,14 A5,6 0 0 1 0,14 Z" vector-effect="non-scaling-stroke"/></g>
<line x1="1144.0" y1="1332.0" x2="1144.0" y2="1442.0" stroke="#000" stroke-width="1.2" />
<line x1="1120.4" y1="1336.0" x2="1207.0" y2="1336.0" stroke="#000" stroke-width="1.3" />
<path d="M1144.0,1336.0 L1131.0,1339.2 L1131.0,1332.8Z" fill="#000"/>
<path d="M1157.6,1336.0 L1170.6,1332.8 L1170.6,1339.2Z" fill="#000"/>
<g transform="translate(1198.0,1313.0) rotate(0)" fill="none" stroke="#000" stroke-width="2.35" stroke-linecap="round" stroke-linejoin="round"><path transform="translate(-6.00,-12.00) scale(1.2000,1.2000)" d="M0.6,16.5 A5,5.6 0 0 0 10,14 L10,6 A5,6 0 0 0 0,6 A5,6 0 0 0 10,6" vector-effect="non-scaling-stroke"/></g>
<line x1="1149.7" y1="1405.0" x2="1149.7" y2="1471.0" stroke="#000" stroke-width="1.2" />
<line x1="1125.0" y1="1409.8" x2="1205.0" y2="1409.8" stroke="#000" stroke-width="1.3" />
<path d="M1144.0,1409.8 L1131.0,1413.0 L1131.0,1406.6Z" fill="#000"/>
<path d="M1149.7,1409.8 L1162.7,1406.6 L1162.7,1413.0Z" fill="#000"/>
<g transform="translate(1198.0,1386.0) rotate(0)" fill="none" stroke="#000" stroke-width="2.35" stroke-linecap="round" stroke-linejoin="round"><path transform="translate(-6.00,-12.00) scale(1.2000,1.2000)" d="M9.5,0 L1.2,0 L0.6,9.2 C1.8,8 3.5,7.6 5,7.6 A5,6.2 0 0 1 5,20 C2.6,20 0.6,18.6 0,16.5" vector-effect="non-scaling-stroke"/></g>
<line x1="1150.0" y1="1471.7" x2="1240.0" y2="1471.7" stroke="#000" stroke-width="1.2" />
<line x1="1150.0" y1="1573.7" x2="1240.0" y2="1573.7" stroke="#000" stroke-width="1.2" />
<line x1="1227.4" y1="1447.0" x2="1227.4" y2="1598.0" stroke="#000" stroke-width="1.3" />
<path d="M1227.4,1471.7 L1224.2,1458.7 L1230.6,1458.7Z" fill="#000"/>
<path d="M1227.4,1573.7 L1230.6,1586.7 L1224.2,1586.7Z" fill="#000"/>
<g transform="translate(1205.0,1521.0) rotate(-90)" fill="none" stroke="#000" stroke-width="2.35" stroke-linecap="round" stroke-linejoin="round"><path transform="translate(-45.00,-12.00) scale(1.2395,1.2000)" d="M5,-1.5 L5,21.5 M5,4.5 A4.8,5.5 0 0 1 5,15.5 A4.8,5.5 0 0 1 5,4.5" vector-effect="non-scaling-stroke"/><path transform="translate(-22.37,-12.00) scale(1.2395,1.2000)" d="M0,0 L10,0 L3.6,20" vector-effect="non-scaling-stroke"/><path transform="translate(-6.20,-12.00) scale(1.2395,1.2000)" d="M0,6 A5,6 0 0 1 10,6 L10,14 A5,6 0 0 1 0,14 Z" vector-effect="non-scaling-stroke"/><path transform="translate(16.44,-12.00) scale(1.2395,1.2000)" d="M0,0 L0,20 M10,0 L10,20 M0,10 L10,10" vector-effect="non-scaling-stroke"/><path transform="translate(32.60,-12.00) scale(1.2395,1.2000)" d="M5,0 A4.4,4.8 0 0 1 5,9.6 A4.4,4.8 0 0 1 5,0 M5,9.6 A5,5.2 0 0 1 5,20 A5,5.2 0 0 1 5,9.6" vector-effect="non-scaling-stroke"/></g>
<circle cx="1395.2" cy="1452.3" r="87.4" stroke="#000" stroke-width="2.4" fill="none" />
<path d="M1328.5,1444.8 L1333.2,1403.4 L1458.2,1403.4 L1462.9,1444.8 L1465.7,1621.5 L1324.7,1621.5Z" fill="#fff"/>
<rect x="1333.2" y="1403.4" width="26.3" height="48.9" rx="0" stroke="#000" stroke-width="2.4" fill="none"/>
<rect x="1430.9" y="1403.4" width="27.3" height="48.9" rx="0" stroke="#000" stroke-width="2.4" fill="none"/>
<rect x="1333.2" y="1566.0" width="26.3" height="47.9" rx="0" stroke="#000" stroke-width="2.4" fill="none"/>
<rect x="1430.9" y="1566.0" width="27.3" height="47.9" rx="0" stroke="#000" stroke-width="2.4" fill="none"/>
<line x1="1333.2" y1="1452.3" x2="1333.2" y2="1566.0" stroke="#000" stroke-width="2.6" />
<line x1="1361.4" y1="1452.3" x2="1361.4" y2="1566.0" stroke="#000" stroke-width="2.6" />
<line x1="1458.2" y1="1452.3" x2="1458.2" y2="1566.0" stroke="#000" stroke-width="2.6" />
<line x1="1429.5" y1="1452.3" x2="1429.5" y2="1566.0" stroke="#000" stroke-width="2.6" />
<line x1="1333.2" y1="1452.3" x2="1359.5" y2="1452.3" stroke="#000" stroke-width="4.0" />
<line x1="1430.9" y1="1452.3" x2="1458.2" y2="1452.3" stroke="#000" stroke-width="4.0" />
<line x1="1333.2" y1="1566.0" x2="1359.5" y2="1566.0" stroke="#000" stroke-width="4.0" />
<line x1="1430.9" y1="1566.0" x2="1458.2" y2="1566.0" stroke="#000" stroke-width="4.0" />
<line x1="1359.5" y1="1410.9" x2="1430.9" y2="1410.9" stroke="#000" stroke-width="2.4" />
<path d="M1367.0,1407.2 Q1395.2,1395.9 1423.4,1407.2" stroke="#000" stroke-width="3.0" fill="none" />
<line x1="1359.5" y1="1420.3" x2="1367.0" y2="1424.1" stroke="#000" stroke-width="2.2" />
<line x1="1430.9" y1="1420.3" x2="1423.4" y2="1424.1" stroke="#000" stroke-width="2.2" />
<circle cx="1364.2" cy="1422.0" r="7.5" stroke="#000" stroke-width="2.2" fill="#fff" />
<circle cx="1426.2" cy="1422.0" r="7.5" stroke="#000" stroke-width="2.2" fill="#fff" />
<circle cx="1364.2" cy="1484.1" r="7.5" stroke="#000" stroke-width="2.2" fill="#fff" />
<circle cx="1426.2" cy="1484.1" r="7.5" stroke="#000" stroke-width="2.2" fill="#fff" />
<circle cx="1395.2" cy="1452.3" r="38.5" stroke="#000" stroke-width="2.2" fill="#fff" />
<circle cx="1364.2" cy="1422.0" r="3.9" stroke="#000" stroke-width="2.0" fill="none" />
<circle cx="1426.2" cy="1422.0" r="3.9" stroke="#000" stroke-width="2.0" fill="none" />
<circle cx="1364.2" cy="1484.1" r="3.9" stroke="#000" stroke-width="2.0" fill="none" />
<circle cx="1426.2" cy="1484.1" r="3.9" stroke="#000" stroke-width="2.0" fill="none" />
<circle cx="1395.2" cy="1452.3" r="35.7" stroke="#000" stroke-width="3.6" fill="none" />
<circle cx="1395.2" cy="1452.3" r="28.2" stroke="#000" stroke-width="2.4" fill="none" />
<line x1="1372.3" y1="1540.7" x2="1372.3" y2="1598.9" stroke="#000" stroke-width="2.4" />
<line x1="1418.5" y1="1540.7" x2="1418.5" y2="1598.9" stroke="#000" stroke-width="2.4" />
<line x1="1372.3" y1="1598.9" x2="1359.5" y2="1609.3" stroke="#000" stroke-width="2.4" />
<line x1="1418.5" y1="1598.9" x2="1430.9" y2="1609.3" stroke="#000" stroke-width="2.4" />
<line x1="1372.3" y1="1593.3" x2="1382.0" y2="1593.3" stroke="#000" stroke-width="2.0" />
<line x1="1408.8" y1="1599.9" x2="1418.5" y2="1599.9" stroke="#000" stroke-width="2.0" />
<rect x="1367.0" y="1496.5" width="57.0" height="43.0" rx="4.699999999999999" stroke="#000" stroke-width="2.4" fill="#fff"/>
<line x1="1381.1" y1="1539.4" x2="1381.1" y2="1602.3" stroke="#000" stroke-width="4.5" />
<line x1="1395.2" y1="1539.4" x2="1395.2" y2="1602.3" stroke="#000" stroke-width="4.5" />
<line x1="1408.8" y1="1539.4" x2="1408.8" y2="1602.3" stroke="#000" stroke-width="4.5" />
<circle cx="1344.4" cy="1431.1" r="6.6" stroke="#000" stroke-width="2.0" fill="none" />
<line x1="1334.1" y1="1431.1" x2="1354.8" y2="1431.1" stroke="#000" stroke-width="1.0" />
<line x1="1344.4" y1="1420.8" x2="1344.4" y2="1441.5" stroke="#000" stroke-width="1.0" />
<circle cx="1446.4" cy="1431.1" r="6.6" stroke="#000" stroke-width="2.0" fill="none" />
<line x1="1436.1" y1="1431.1" x2="1456.8" y2="1431.1" stroke="#000" stroke-width="1.0" />
<line x1="1446.4" y1="1420.8" x2="1446.4" y2="1441.5" stroke="#000" stroke-width="1.0" />
<circle cx="1344.4" cy="1583.4" r="6.6" stroke="#000" stroke-width="2.0" fill="none" />
<line x1="1334.1" y1="1583.4" x2="1354.8" y2="1583.4" stroke="#000" stroke-width="1.0" />
<line x1="1344.4" y1="1573.1" x2="1344.4" y2="1593.8" stroke="#000" stroke-width="1.0" />
<circle cx="1446.4" cy="1583.4" r="6.6" stroke="#000" stroke-width="2.0" fill="none" />
<line x1="1436.1" y1="1583.4" x2="1456.8" y2="1583.4" stroke="#000" stroke-width="1.0" />
<line x1="1446.4" y1="1573.1" x2="1446.4" y2="1593.8" stroke="#000" stroke-width="1.0" />
<path d="M1338.8,1403.4 A5.6,5.6 0 0 1 1350.1,1403.4" stroke="#000" stroke-width="2.0" fill="none" />
<path d="M1440.8,1403.4 A5.6,5.6 0 0 1 1452.1,1403.4" stroke="#000" stroke-width="2.0" fill="none" />
<line x1="1329.4" y1="1476.5" x2="1329.4" y2="1575.9" stroke="#000" stroke-width="4.5" />
<line x1="1462.4" y1="1476.5" x2="1462.4" y2="1575.9" stroke="#000" stroke-width="4.5" />
<line x1="1331.8" y1="1471.1" x2="1331.8" y2="1583.9" stroke="#000" stroke-width="1.4" />
<line x1="1460.5" y1="1471.1" x2="1460.5" y2="1583.9" stroke="#000" stroke-width="1.4" />
<line x1="1395.2" y1="1373.3" x2="1395.2" y2="1397.8" stroke="#000" stroke-width="4.0" />
<line x1="1317.2" y1="1452.3" x2="1333.2" y2="1452.3" stroke="#000" stroke-width="2.6" />
<line x1="1458.2" y1="1452.3" x2="1473.2" y2="1452.3" stroke="#000" stroke-width="2.6" />
<line x1="1395.2" y1="1358.3" x2="1395.2" y2="1617.7" stroke="#000" stroke-width="1.0" stroke-dasharray="14 3 2 3"/>
<line x1="1301.2" y1="1452.3" x2="1489.2" y2="1452.3" stroke="#000" stroke-width="1.0" stroke-dasharray="14 3 2 3"/>
<rect x="1458.0" y="1452.0" width="12.0" height="148.0" rx="0" stroke="#000" stroke-width="2.2" fill="#fff"/>
<rect x="1470.0" y="1457.0" width="85.4" height="136.5" rx="0" stroke="#000" stroke-width="2.6" fill="#fff"/>
<rect x="1556.6" y="1445.0" width="13.4" height="160.7" rx="2" stroke="#000" stroke-width="2.6" fill="#fff"/>
<line x1="1563.0" y1="1474.0" x2="1563.0" y2="1576.5" stroke="#000" stroke-width="1.4" stroke-dasharray="8 4"/>
<line x1="1315.0" y1="1525.0" x2="1580.0" y2="1525.0" stroke="#000" stroke-width="1.0" stroke-dasharray="14 3 2 3"/>
<line x1="1395.2" y1="1298.0" x2="1395.2" y2="1362.0" stroke="#000" stroke-width="1.2" />
<line x1="1570.0" y1="1298.0" x2="1570.0" y2="1445.0" stroke="#000" stroke-width="1.2" />
<line x1="1395.2" y1="1305.0" x2="1570.0" y2="1305.0" stroke="#000" stroke-width="1.3" />
<path d="M1395.2,1305.0 L1408.2,1301.8 L1408.2,1308.2Z" fill="#000"/>
<path d="M1570.0,1305.0 L1557.0,1308.2 L1557.0,1301.8Z" fill="#000"/>
<g transform="translate(1482.3,1281.4) rotate(0)" fill="none" stroke="#000" stroke-width="2.35" stroke-linecap="round" stroke-linejoin="round"><path transform="translate(-21.30,-12.00) scale(1.1805,1.2000)" d="M2.5,3.5 L6,0 L6,20" vector-effect="non-scaling-stroke"/><path transform="translate(-5.90,-12.00) scale(1.1805,1.2000)" d="M0.3,5 A4.85,5 0 0 1 10,5 C10,8.5 7,11 0,20 L10,20" vector-effect="non-scaling-stroke"/><path transform="translate(9.50,-12.00) scale(1.1805,1.2000)" d="M0,6 A5,6 0 0 1 10,6 L10,14 A5,6 0 0 1 0,14 Z" vector-effect="non-scaling-stroke"/></g>
<line x1="1556.6" y1="1342.0" x2="1556.6" y2="1445.0" stroke="#000" stroke-width="1.2" />
<line x1="1532.0" y1="1345.7" x2="1620.0" y2="1345.7" stroke="#000" stroke-width="1.3" />
<path d="M1556.6,1345.7 L1543.6,1348.9 L1543.6,1342.5Z" fill="#000"/>
<path d="M1570.0,1345.7 L1583.0,1342.5 L1583.0,1348.9Z" fill="#000"/>
<g transform="translate(1611.4,1322.0) rotate(0)" fill="none" stroke="#000" stroke-width="2.35" stroke-linecap="round" stroke-linejoin="round"><path transform="translate(-6.00,-12.00) scale(1.2000,1.2000)" d="M0.6,16.5 A5,5.6 0 0 0 10,14 L10,6 A5,6 0 0 0 0,6 A5,6 0 0 0 10,6" vector-effect="non-scaling-stroke"/></g>
<line x1="1563.0" y1="1400.0" x2="1563.0" y2="1474.0" stroke="#000" stroke-width="1.2" />
<line x1="1538.0" y1="1403.0" x2="1620.0" y2="1403.0" stroke="#000" stroke-width="1.3" />
<path d="M1556.6,1403.0 L1543.6,1406.2 L1543.6,1399.8Z" fill="#000"/>
<path d="M1563.0,1403.0 L1576.0,1399.8 L1576.0,1406.2Z" fill="#000"/>
<g transform="translate(1611.0,1379.0) rotate(0)" fill="none" stroke="#000" stroke-width="2.35" stroke-linecap="round" stroke-linejoin="round"><path transform="translate(-6.00,-12.00) scale(1.2000,1.2000)" d="M9.5,0 L1.2,0 L0.6,9.2 C1.8,8 3.5,7.6 5,7.6 A5,6.2 0 0 1 5,20 C2.6,20 0.6,18.6 0,16.5" vector-effect="non-scaling-stroke"/></g>
<line x1="1563.0" y1="1474.0" x2="1662.0" y2="1474.0" stroke="#000" stroke-width="1.2" />
<line x1="1563.0" y1="1576.5" x2="1662.0" y2="1576.5" stroke="#000" stroke-width="1.2" />
<line x1="1657.6" y1="1450.0" x2="1657.6" y2="1599.6" stroke="#000" stroke-width="1.3" />
<path d="M1657.6,1474.0 L1654.4,1461.0 L1660.8,1461.0Z" fill="#000"/>
<path d="M1657.6,1576.5 L1660.8,1589.5 L1654.4,1589.5Z" fill="#000"/>
<g transform="translate(1631.0,1523.0) rotate(-90)" fill="none" stroke="#000" stroke-width="2.35" stroke-linecap="round" stroke-linejoin="round"><path transform="translate(-49.00,-12.00) scale(1.3497,1.2000)" d="M5,-1.5 L5,21.5 M5,4.5 A4.8,5.5 0 0 1 5,15.5 A4.8,5.5 0 0 1 5,4.5" vector-effect="non-scaling-stroke"/><path transform="translate(-24.35,-12.00) scale(1.3497,1.2000)" d="M0,0 L10,0 L3.6,20" vector-effect="non-scaling-stroke"/><path transform="translate(-6.75,-12.00) scale(1.3497,1.2000)" d="M0,6 A5,6 0 0 1 10,6 L10,14 A5,6 0 0 1 0,14 Z" vector-effect="non-scaling-stroke"/><path transform="translate(17.90,-12.00) scale(1.3497,1.2000)" d="M0,0 L0,20 M10,0 L10,20 M0,10 L10,10" vector-effect="non-scaling-stroke"/><path transform="translate(35.50,-12.00) scale(1.3497,1.2000)" d="M5,0 A4.4,4.8 0 0 1 5,9.6 A4.4,4.8 0 0 1 5,0 M5,9.6 A5,5.2 0 0 1 5,20 A5,5.2 0 0 1 5,9.6" vector-effect="non-scaling-stroke"/></g>
<circle cx="653.4" cy="1904.6" r="87.4" stroke="#000" stroke-width="2.4" fill="none" />
<path d="M586.7,1897.1 L591.4,1855.7 L716.4,1855.7 L721.1,1897.1 L723.9,2073.8 L582.9,2073.8Z" fill="#fff"/>
<rect x="591.4" y="1855.7" width="26.3" height="48.9" rx="0" stroke="#000" stroke-width="2.4" fill="none"/>
<rect x="689.1" y="1855.7" width="27.3" height="48.9" rx="0" stroke="#000" stroke-width="2.4" fill="none"/>
<rect x="591.4" y="2018.3" width="26.3" height="47.9" rx="0" stroke="#000" stroke-width="2.4" fill="none"/>
<rect x="689.1" y="2018.3" width="27.3" height="47.9" rx="0" stroke="#000" stroke-width="2.4" fill="none"/>
<line x1="591.4" y1="1904.6" x2="591.4" y2="2018.3" stroke="#000" stroke-width="2.6" />
<line x1="619.6" y1="1904.6" x2="619.6" y2="2018.3" stroke="#000" stroke-width="2.6" />
<line x1="716.4" y1="1904.6" x2="716.4" y2="2018.3" stroke="#000" stroke-width="2.6" />
<line x1="687.7" y1="1904.6" x2="687.7" y2="2018.3" stroke="#000" stroke-width="2.6" />
<line x1="591.4" y1="1904.6" x2="617.7" y2="1904.6" stroke="#000" stroke-width="4.0" />
<line x1="689.1" y1="1904.6" x2="716.4" y2="1904.6" stroke="#000" stroke-width="4.0" />
<line x1="591.4" y1="2018.3" x2="617.7" y2="2018.3" stroke="#000" stroke-width="4.0" />
<line x1="689.1" y1="2018.3" x2="716.4" y2="2018.3" stroke="#000" stroke-width="4.0" />
<line x1="617.7" y1="1863.2" x2="689.1" y2="1863.2" stroke="#000" stroke-width="2.4" />
<path d="M625.2,1859.5 Q653.4,1848.2 681.6,1859.5" stroke="#000" stroke-width="3.0" fill="none" />
<line x1="617.7" y1="1872.6" x2="625.2" y2="1876.4" stroke="#000" stroke-width="2.2" />
<line x1="689.1" y1="1872.6" x2="681.6" y2="1876.4" stroke="#000" stroke-width="2.2" />
<circle cx="622.4" cy="1874.3" r="7.5" stroke="#000" stroke-width="2.2" fill="#fff" />
<circle cx="684.4" cy="1874.3" r="7.5" stroke="#000" stroke-width="2.2" fill="#fff" />
<circle cx="622.4" cy="1936.4" r="7.5" stroke="#000" stroke-width="2.2" fill="#fff" />
<circle cx="684.4" cy="1936.4" r="7.5" stroke="#000" stroke-width="2.2" fill="#fff" />
<circle cx="653.4" cy="1904.6" r="38.5" stroke="#000" stroke-width="2.2" fill="#fff" />
<circle cx="622.4" cy="1874.3" r="3.9" stroke="#000" stroke-width="2.0" fill="none" />
<circle cx="684.4" cy="1874.3" r="3.9" stroke="#000" stroke-width="2.0" fill="none" />
<circle cx="622.4" cy="1936.4" r="3.9" stroke="#000" stroke-width="2.0" fill="none" />
<circle cx="684.4" cy="1936.4" r="3.9" stroke="#000" stroke-width="2.0" fill="none" />
<circle cx="653.4" cy="1904.6" r="35.7" stroke="#000" stroke-width="3.6" fill="none" />
<circle cx="653.4" cy="1904.6" r="28.2" stroke="#000" stroke-width="2.4" fill="none" />
<line x1="630.5" y1="1993.0" x2="630.5" y2="2051.2" stroke="#000" stroke-width="2.4" />
<line x1="676.7" y1="1993.0" x2="676.7" y2="2051.2" stroke="#000" stroke-width="2.4" />
<line x1="630.5" y1="2051.2" x2="617.7" y2="2061.6" stroke="#000" stroke-width="2.4" />
<line x1="676.7" y1="2051.2" x2="689.1" y2="2061.6" stroke="#000" stroke-width="2.4" />
<line x1="630.5" y1="2045.6" x2="640.2" y2="2045.6" stroke="#000" stroke-width="2.0" />
<line x1="667.0" y1="2052.2" x2="676.7" y2="2052.2" stroke="#000" stroke-width="2.0" />
<rect x="625.2" y="1948.8" width="57.0" height="43.0" rx="4.699999999999999" stroke="#000" stroke-width="2.4" fill="#fff"/>
<line x1="639.3" y1="1991.7" x2="639.3" y2="2054.6" stroke="#000" stroke-width="4.5" />
<line x1="653.4" y1="1991.7" x2="653.4" y2="2054.6" stroke="#000" stroke-width="4.5" />
<line x1="667.0" y1="1991.7" x2="667.0" y2="2054.6" stroke="#000" stroke-width="4.5" />
<circle cx="602.6" cy="1883.4" r="6.6" stroke="#000" stroke-width="2.0" fill="none" />
<line x1="592.3" y1="1883.4" x2="613.0" y2="1883.4" stroke="#000" stroke-width="1.0" />
<line x1="602.6" y1="1873.1" x2="602.6" y2="1893.8" stroke="#000" stroke-width="1.0" />
<circle cx="704.6" cy="1883.4" r="6.6" stroke="#000" stroke-width="2.0" fill="none" />
<line x1="694.3" y1="1883.4" x2="715.0" y2="1883.4" stroke="#000" stroke-width="1.0" />
<line x1="704.6" y1="1873.1" x2="704.6" y2="1893.8" stroke="#000" stroke-width="1.0" />
<circle cx="602.6" cy="2035.7" r="6.6" stroke="#000" stroke-width="2.0" fill="none" />
<line x1="592.3" y1="2035.7" x2="613.0" y2="2035.7" stroke="#000" stroke-width="1.0" />
<line x1="602.6" y1="2025.4" x2="602.6" y2="2046.1" stroke="#000" stroke-width="1.0" />
<circle cx="704.6" cy="2035.7" r="6.6" stroke="#000" stroke-width="2.0" fill="none" />
<line x1="694.3" y1="2035.7" x2="715.0" y2="2035.7" stroke="#000" stroke-width="1.0" />
<line x1="704.6" y1="2025.4" x2="704.6" y2="2046.1" stroke="#000" stroke-width="1.0" />
<path d="M597.0,1855.7 A5.6,5.6 0 0 1 608.3,1855.7" stroke="#000" stroke-width="2.0" fill="none" />
<path d="M699.0,1855.7 A5.6,5.6 0 0 1 710.3,1855.7" stroke="#000" stroke-width="2.0" fill="none" />
<line x1="587.6" y1="1928.8" x2="587.6" y2="2028.2" stroke="#000" stroke-width="4.5" />
<line x1="720.6" y1="1928.8" x2="720.6" y2="2028.2" stroke="#000" stroke-width="4.5" />
<line x1="589.9" y1="1923.4" x2="589.9" y2="2036.2" stroke="#000" stroke-width="1.4" />
<line x1="718.7" y1="1923.4" x2="718.7" y2="2036.2" stroke="#000" stroke-width="1.4" />
<line x1="653.4" y1="1825.6" x2="653.4" y2="1850.1" stroke="#000" stroke-width="4.0" />
<line x1="575.4" y1="1904.6" x2="591.4" y2="1904.6" stroke="#000" stroke-width="2.6" />
<line x1="716.4" y1="1904.6" x2="731.4" y2="1904.6" stroke="#000" stroke-width="2.6" />
<line x1="653.4" y1="1810.6" x2="653.4" y2="2070.0" stroke="#000" stroke-width="1.0" stroke-dasharray="14 3 2 3"/>
<line x1="559.4" y1="1904.6" x2="747.4" y2="1904.6" stroke="#000" stroke-width="1.0" stroke-dasharray="14 3 2 3"/>
<rect x="715.4" y="1898.0" width="4.6" height="158.0" rx="0" stroke="#000" stroke-width="2.2" fill="#fff"/>
<rect x="720.0" y="1898.0" width="46.3" height="157.4" rx="0" stroke="#000" stroke-width="2.6" fill="#fff"/>
<rect x="767.5" y="1861.0" width="14.5" height="233.0" rx="2" stroke="#000" stroke-width="2.6" fill="#fff"/>
<line x1="774.5" y1="1898.0" x2="774.5" y2="2056.5" stroke="#000" stroke-width="1.4" stroke-dasharray="8 4"/>
<line x1="590.0" y1="1977.0" x2="790.0" y2="1977.0" stroke="#000" stroke-width="1.0" stroke-dasharray="14 3 2 3"/>
<line x1="653.4" y1="1758.0" x2="653.4" y2="1815.0" stroke="#000" stroke-width="1.2" />
<line x1="782.0" y1="1758.0" x2="782.0" y2="1861.0" stroke="#000" stroke-width="1.2" />
<line x1="653.4" y1="1765.0" x2="782.0" y2="1765.0" stroke="#000" stroke-width="1.3" />
<path d="M653.4,1765.0 L666.4,1761.8 L666.4,1768.2Z" fill="#000"/>
<path d="M782.0,1765.0 L769.0,1768.2 L769.0,1761.8Z" fill="#000"/>
<g transform="translate(716.5,1742.0) rotate(0)" fill="none" stroke="#000" stroke-width="2.35" stroke-linecap="round" stroke-linejoin="round"><path transform="translate(-13.30,-12.00) scale(1.1543,1.2000)" d="M5,0 A4.4,4.8 0 0 1 5,9.6 A4.4,4.8 0 0 1 5,0 M5,9.6 A5,5.2 0 0 1 5,20 A5,5.2 0 0 1 5,9.6" vector-effect="non-scaling-stroke"/><path transform="translate(1.76,-12.00) scale(1.1543,1.2000)" d="M0.6,16.5 A5,5.6 0 0 0 10,14 L10,6 A5,6 0 0 0 0,6 A5,6 0 0 0 10,6" vector-effect="non-scaling-stroke"/></g>
<line x1="767.5" y1="1790.0" x2="767.5" y2="1861.0" stroke="#000" stroke-width="1.2" />
<line x1="743.0" y1="1794.5" x2="841.5" y2="1794.5" stroke="#000" stroke-width="1.3" />
<path d="M767.5,1794.5 L754.5,1797.7 L754.5,1791.3Z" fill="#000"/>
<path d="M782.0,1794.5 L795.0,1791.3 L795.0,1797.7Z" fill="#000"/>
<g transform="translate(826.4,1772.0) rotate(0)" fill="none" stroke="#000" stroke-width="2.35" stroke-linecap="round" stroke-linejoin="round"><path transform="translate(-12.75,-12.00) scale(1.1066,1.2000)" d="M2.5,3.5 L6,0 L6,20" vector-effect="non-scaling-stroke"/><path transform="translate(1.68,-12.00) scale(1.1066,1.2000)" d="M0,6 A5,6 0 0 1 10,6 L10,14 A5,6 0 0 1 0,14 Z" vector-effect="non-scaling-stroke"/></g>
<line x1="774.5" y1="1840.0" x2="774.5" y2="1898.0" stroke="#000" stroke-width="1.2" />
<line x1="750.0" y1="1845.6" x2="825.0" y2="1845.6" stroke="#000" stroke-width="1.3" />
<path d="M767.5,1845.6 L754.5,1848.8 L754.5,1842.4Z" fill="#000"/>
<path d="M774.5,1845.6 L787.5,1842.4 L787.5,1848.8Z" fill="#000"/>
<g transform="translate(818.4,1820.6) rotate(0)" fill="none" stroke="#000" stroke-width="2.35" stroke-linecap="round" stroke-linejoin="round"><path transform="translate(-6.00,-12.00) scale(1.2000,1.2000)" d="M9.5,0 L1.2,0 L0.6,9.2 C1.8,8 3.5,7.6 5,7.6 A5,6.2 0 0 1 5,20 C2.6,20 0.6,18.6 0,16.5" vector-effect="non-scaling-stroke"/></g>
<line x1="775.0" y1="1898.0" x2="850.0" y2="1898.0" stroke="#000" stroke-width="1.2" />
<line x1="775.0" y1="2056.5" x2="850.0" y2="2056.5" stroke="#000" stroke-width="1.2" />
<line x1="846.0" y1="1898.0" x2="846.0" y2="2056.5" stroke="#000" stroke-width="1.3" />
<path d="M846.0,1898.0 L849.2,1911.0 L842.8,1911.0Z" fill="#000"/>
<path d="M846.0,2056.5 L842.8,2043.5 L849.2,2043.5Z" fill="#000"/>
<g transform="translate(825.4,1974.5) rotate(-90)" fill="none" stroke="#000" stroke-width="2.35" stroke-linecap="round" stroke-linejoin="round"><path transform="translate(-57.30,-12.00) scale(1.3380,1.2000)" d="M5,-1.5 L5,21.5 M5,4.5 A4.8,5.5 0 0 1 5,15.5 A4.8,5.5 0 0 1 5,4.5" vector-effect="non-scaling-stroke"/><path transform="translate(-32.87,-12.00) scale(1.3380,1.2000)" d="M2.5,3.5 L6,0 L6,20" vector-effect="non-scaling-stroke"/><path transform="translate(-15.42,-12.00) scale(1.3380,1.2000)" d="M2.5,3.5 L6,0 L6,20" vector-effect="non-scaling-stroke"/><path transform="translate(2.04,-12.00) scale(1.3380,1.2000)" d="M0,6 A5,6 0 0 1 10,6 L10,14 A5,6 0 0 1 0,14 Z" vector-effect="non-scaling-stroke"/><path transform="translate(26.47,-12.00) scale(1.3380,1.2000)" d="M0,0 L0,20 M10,0 L10,20 M0,10 L10,10" vector-effect="non-scaling-stroke"/><path transform="translate(43.92,-12.00) scale(1.3380,1.2000)" d="M5,0 A4.4,4.8 0 0 1 5,9.6 A4.4,4.8 0 0 1 5,0 M5,9.6 A5,5.2 0 0 1 5,20 A5,5.2 0 0 1 5,9.6" vector-effect="non-scaling-stroke"/></g>
<circle cx="1476.6" cy="1938.3" r="79.0" stroke="#000" stroke-width="2.4" fill="none" />
<path d="M1416.2,1931.5 L1420.5,1894.1 L1533.5,1894.1 L1537.8,1931.5 L1540.3,2091.3 L1412.8,2091.3Z" fill="#fff"/>
<rect x="1420.5" y="1894.1" width="23.8" height="44.2" rx="0" stroke="#000" stroke-width="2.4" fill="none"/>
<rect x="1508.9" y="1894.1" width="24.7" height="44.2" rx="0" stroke="#000" stroke-width="2.4" fill="none"/>
<rect x="1420.5" y="2041.1" width="23.8" height="43.4" rx="0" stroke="#000" stroke-width="2.4" fill="none"/>
<rect x="1508.9" y="2041.1" width="24.7" height="43.4" rx="0" stroke="#000" stroke-width="2.4" fill="none"/>
<line x1="1420.5" y1="1938.3" x2="1420.5" y2="2041.1" stroke="#000" stroke-width="2.6" />
<line x1="1446.0" y1="1938.3" x2="1446.0" y2="2041.1" stroke="#000" stroke-width="2.6" />
<line x1="1533.5" y1="1938.3" x2="1533.5" y2="2041.1" stroke="#000" stroke-width="2.6" />
<line x1="1507.6" y1="1938.3" x2="1507.6" y2="2041.1" stroke="#000" stroke-width="2.6" />
<line x1="1420.5" y1="1938.3" x2="1444.3" y2="1938.3" stroke="#000" stroke-width="4.0" />
<line x1="1508.9" y1="1938.3" x2="1533.5" y2="1938.3" stroke="#000" stroke-width="4.0" />
<line x1="1420.5" y1="2041.1" x2="1444.3" y2="2041.1" stroke="#000" stroke-width="4.0" />
<line x1="1508.9" y1="2041.1" x2="1533.5" y2="2041.1" stroke="#000" stroke-width="4.0" />
<line x1="1444.3" y1="1900.9" x2="1508.9" y2="1900.9" stroke="#000" stroke-width="2.4" />
<path d="M1451.1,1897.5 Q1476.6,1887.3 1502.1,1897.5" stroke="#000" stroke-width="3.0" fill="none" />
<line x1="1444.3" y1="1909.4" x2="1451.1" y2="1912.8" stroke="#000" stroke-width="2.2" />
<line x1="1508.9" y1="1909.4" x2="1502.1" y2="1912.8" stroke="#000" stroke-width="2.2" />
<circle cx="1448.5" cy="1910.9" r="6.8" stroke="#000" stroke-width="2.2" fill="#fff" />
<circle cx="1504.6" cy="1910.9" r="6.8" stroke="#000" stroke-width="2.2" fill="#fff" />
<circle cx="1448.5" cy="1967.0" r="6.8" stroke="#000" stroke-width="2.2" fill="#fff" />
<circle cx="1504.6" cy="1967.0" r="6.8" stroke="#000" stroke-width="2.2" fill="#fff" />
<circle cx="1476.6" cy="1938.3" r="34.9" stroke="#000" stroke-width="2.2" fill="#fff" />
<circle cx="1448.5" cy="1910.9" r="3.6" stroke="#000" stroke-width="2.0" fill="none" />
<circle cx="1504.6" cy="1910.9" r="3.6" stroke="#000" stroke-width="2.0" fill="none" />
<circle cx="1448.5" cy="1967.0" r="3.6" stroke="#000" stroke-width="2.0" fill="none" />
<circle cx="1504.6" cy="1967.0" r="3.6" stroke="#000" stroke-width="2.0" fill="none" />
<circle cx="1476.6" cy="1938.3" r="32.3" stroke="#000" stroke-width="3.6" fill="none" />
<circle cx="1476.6" cy="1938.3" r="25.5" stroke="#000" stroke-width="2.4" fill="none" />
<line x1="1455.9" y1="2018.2" x2="1455.9" y2="2070.9" stroke="#000" stroke-width="2.4" />
<line x1="1497.7" y1="2018.2" x2="1497.7" y2="2070.9" stroke="#000" stroke-width="2.4" />
<line x1="1455.9" y1="2070.9" x2="1444.3" y2="2080.2" stroke="#000" stroke-width="2.4" />
<line x1="1497.7" y1="2070.9" x2="1508.9" y2="2080.2" stroke="#000" stroke-width="2.4" />
<line x1="1455.9" y1="2065.8" x2="1464.7" y2="2065.8" stroke="#000" stroke-width="2.0" />
<line x1="1488.9" y1="2071.8" x2="1497.7" y2="2071.8" stroke="#000" stroke-width="2.0" />
<rect x="1451.1" y="1978.2" width="51.5" height="38.8" rx="4.25" stroke="#000" stroke-width="2.4" fill="#fff"/>
<line x1="1463.8" y1="2017.1" x2="1463.8" y2="2074.0" stroke="#000" stroke-width="4.5" />
<line x1="1476.6" y1="2017.1" x2="1476.6" y2="2074.0" stroke="#000" stroke-width="4.5" />
<line x1="1488.9" y1="2017.1" x2="1488.9" y2="2074.0" stroke="#000" stroke-width="4.5" />
<circle cx="1430.7" cy="1919.2" r="6.0" stroke="#000" stroke-width="2.0" fill="none" />
<line x1="1421.3" y1="1919.2" x2="1440.0" y2="1919.2" stroke="#000" stroke-width="1.0" />
<line x1="1430.7" y1="1909.8" x2="1430.7" y2="1928.5" stroke="#000" stroke-width="1.0" />
<circle cx="1522.9" cy="1919.2" r="6.0" stroke="#000" stroke-width="2.0" fill="none" />
<line x1="1513.6" y1="1919.2" x2="1532.3" y2="1919.2" stroke="#000" stroke-width="1.0" />
<line x1="1522.9" y1="1909.8" x2="1522.9" y2="1928.5" stroke="#000" stroke-width="1.0" />
<circle cx="1430.7" cy="2056.9" r="6.0" stroke="#000" stroke-width="2.0" fill="none" />
<line x1="1421.3" y1="2056.9" x2="1440.0" y2="2056.9" stroke="#000" stroke-width="1.0" />
<line x1="1430.7" y1="2047.5" x2="1430.7" y2="2066.2" stroke="#000" stroke-width="1.0" />
<circle cx="1522.9" cy="2056.9" r="6.0" stroke="#000" stroke-width="2.0" fill="none" />
<line x1="1513.6" y1="2056.9" x2="1532.3" y2="2056.9" stroke="#000" stroke-width="1.0" />
<line x1="1522.9" y1="2047.5" x2="1522.9" y2="2066.2" stroke="#000" stroke-width="1.0" />
<path d="M1425.6,1894.1 A5.1,5.1 0 0 1 1435.8,1894.1" stroke="#000" stroke-width="2.0" fill="none" />
<path d="M1517.8,1894.1 A5.1,5.1 0 0 1 1528.0,1894.1" stroke="#000" stroke-width="2.0" fill="none" />
<line x1="1417.1" y1="1960.1" x2="1417.1" y2="2050.1" stroke="#000" stroke-width="4.5" />
<line x1="1537.4" y1="1960.1" x2="1537.4" y2="2050.1" stroke="#000" stroke-width="4.5" />
<line x1="1419.2" y1="1955.3" x2="1419.2" y2="2057.3" stroke="#000" stroke-width="1.4" />
<line x1="1535.7" y1="1955.3" x2="1535.7" y2="2057.3" stroke="#000" stroke-width="1.4" />
<line x1="1476.6" y1="1866.9" x2="1476.6" y2="1889.0" stroke="#000" stroke-width="4.0" />
<line x1="1406.0" y1="1938.3" x2="1420.5" y2="1938.3" stroke="#000" stroke-width="2.6" />
<line x1="1533.5" y1="1938.3" x2="1547.1" y2="1938.3" stroke="#000" stroke-width="2.6" />
<line x1="1476.6" y1="1853.3" x2="1476.6" y2="2087.9" stroke="#000" stroke-width="1.0" stroke-dasharray="14 3 2 3"/>
<line x1="1391.6" y1="1938.3" x2="1561.6" y2="1938.3" stroke="#000" stroke-width="1.0" stroke-dasharray="14 3 2 3"/>
<path d="M1533,1935 L1552.8,1925 L1552.8,2095 L1533,2068Z" stroke="#000" stroke-width="2.2" fill="#fff" />
<rect x="1552.8" y="1912.5" width="17.6" height="183.1" rx="2" stroke="#000" stroke-width="2.6" fill="#fff"/>
<line x1="1563.5" y1="1942.5" x2="1563.5" y2="2086.3" stroke="#000" stroke-width="1.4" stroke-dasharray="8 4"/>
<line x1="1405.0" y1="2004.0" x2="1575.0" y2="2004.0" stroke="#000" stroke-width="1.0" stroke-dasharray="14 3 2 3"/>
<line x1="1476.6" y1="1778.0" x2="1476.6" y2="1858.0" stroke="#000" stroke-width="1.2" />
<line x1="1570.4" y1="1778.0" x2="1570.4" y2="1912.0" stroke="#000" stroke-width="1.2" />
<line x1="1476.6" y1="1785.8" x2="1570.4" y2="1785.8" stroke="#000" stroke-width="1.3" />
<path d="M1476.6,1785.8 L1489.6,1782.6 L1489.6,1789.0Z" fill="#000"/>
<path d="M1570.4,1785.8 L1557.4,1789.0 L1557.4,1782.6Z" fill="#000"/>
<g transform="translate(1523.8,1761.4) rotate(0)" fill="none" stroke="#000" stroke-width="2.35" stroke-linecap="round" stroke-linejoin="round"><path transform="translate(-13.00,-12.00) scale(1.1283,1.2000)" d="M0,0 L10,0 L3.6,20" vector-effect="non-scaling-stroke"/><path transform="translate(1.72,-12.00) scale(1.1283,1.2000)" d="M0.3,5 A4.85,5 0 0 1 10,5 C10,8.5 7,11 0,20 L10,20" vector-effect="non-scaling-stroke"/></g>
<line x1="1552.8" y1="1830.0" x2="1552.8" y2="1912.0" stroke="#000" stroke-width="1.2" />
<line x1="1528.0" y1="1834.4" x2="1662.5" y2="1834.4" stroke="#000" stroke-width="1.3" />
<path d="M1552.8,1834.4 L1539.8,1837.6 L1539.8,1831.2Z" fill="#000"/>
<path d="M1570.4,1834.4 L1583.4,1831.2 L1583.4,1837.6Z" fill="#000"/>
<g transform="translate(1630.4,1811.0) rotate(0)" fill="none" stroke="#000" stroke-width="2.35" stroke-linecap="round" stroke-linejoin="round"><path transform="translate(-29.00,-12.00) scale(1.2295,1.2000)" d="M2.5,3.5 L6,0 L6,20" vector-effect="non-scaling-stroke"/><path transform="translate(-12.96,-12.00) scale(1.2295,1.2000)" d="M7.5,20 L7.5,0 L0,14.5 L10,14.5" vector-effect="non-scaling-stroke"/><circle cx="5.75" cy="10.59" r="1.76" fill="#000" stroke="none"/><path transform="translate(16.71,-12.00) scale(1.2295,1.2000)" d="M9.5,0 L1.2,0 L0.6,9.2 C1.8,8 3.5,7.6 5,7.6 A5,6.2 0 0 1 5,20 C2.6,20 0.6,18.6 0,16.5" vector-effect="non-scaling-stroke"/></g>
<line x1="1563.5" y1="1875.0" x2="1563.5" y2="1942.0" stroke="#000" stroke-width="1.2" />
<line x1="1539.4" y1="1883.5" x2="1618.0" y2="1883.5" stroke="#000" stroke-width="1.3" />
<path d="M1552.8,1883.5 L1539.8,1886.7 L1539.8,1880.3Z" fill="#000"/>
<path d="M1563.5,1883.5 L1576.5,1880.3 L1576.5,1886.7Z" fill="#000"/>
<g transform="translate(1609.7,1859.7) rotate(0)" fill="none" stroke="#000" stroke-width="2.35" stroke-linecap="round" stroke-linejoin="round"><path transform="translate(-6.00,-12.00) scale(1.2000,1.2000)" d="M9.5,0 L1.2,0 L0.6,9.2 C1.8,8 3.5,7.6 5,7.6 A5,6.2 0 0 1 5,20 C2.6,20 0.6,18.6 0,16.5" vector-effect="non-scaling-stroke"/></g>
<line x1="1563.0" y1="1942.5" x2="1645.0" y2="1942.5" stroke="#000" stroke-width="1.2" />
<line x1="1563.0" y1="2086.3" x2="1645.0" y2="2086.3" stroke="#000" stroke-width="1.2" />
<line x1="1638.7" y1="1942.5" x2="1638.7" y2="2086.3" stroke="#000" stroke-width="1.3" />
<path d="M1638.7,1942.5 L1641.9,1955.5 L1635.5,1955.5Z" fill="#000"/>
<path d="M1638.7,2086.3 L1635.5,2073.3 L1641.9,2073.3Z" fill="#000"/>
<g transform="translate(1615.0,2011.8) rotate(-90)" fill="none" stroke="#000" stroke-width="2.35" stroke-linecap="round" stroke-linejoin="round"><path transform="translate(-49.00,-12.00) scale(1.3497,1.2000)" d="M5,-1.5 L5,21.5 M5,4.5 A4.8,5.5 0 0 1 5,15.5 A4.8,5.5 0 0 1 5,4.5" vector-effect="non-scaling-stroke"/><path transform="translate(-24.35,-12.00) scale(1.3497,1.2000)" d="M0.6,16.5 A5,5.6 0 0 0 10,14 L10,6 A5,6 0 0 0 0,6 A5,6 0 0 0 10,6" vector-effect="non-scaling-stroke"/><path transform="translate(-6.75,-12.00) scale(1.3497,1.2000)" d="M9.5,0 L1.2,0 L0.6,9.2 C1.8,8 3.5,7.6 5,7.6 A5,6.2 0 0 1 5,20 C2.6,20 0.6,18.6 0,16.5" vector-effect="non-scaling-stroke"/><path transform="translate(17.90,-12.00) scale(1.3497,1.2000)" d="M0,0 L0,20 M10,0 L10,20 M0,10 L10,10" vector-effect="non-scaling-stroke"/><path transform="translate(35.50,-12.00) scale(1.3497,1.2000)" d="M5,0 A4.4,4.8 0 0 1 5,9.6 A4.4,4.8 0 0 1 5,0 M5,9.6 A5,5.2 0 0 1 5,20 A5,5.2 0 0 1 5,9.6" vector-effect="non-scaling-stroke"/></g>
<path d="M399.4,1872.0 A88,88 0 1 0 399.4,1970.0 Z" stroke="#000" stroke-width="2.8" fill="none" />
<circle cx="326.3" cy="1921.0" r="72.0" stroke="#000" stroke-width="1.0" fill="none" stroke-dasharray="16 3 2 3"/>
<circle cx="326.3" cy="1921.0" r="60.7" stroke="#000" stroke-width="2.8" fill="none" />
<circle cx="326.3" cy="1921.0" r="22.0" stroke="#000" stroke-width="2.6" fill="none" />
<path d="M321.8,1908.4 L321.8,1903.3 L330.8,1903.3 L330.8,1908.4 A13.7,13.7 0 1 1 321.8,1908.4Z" stroke="#000" stroke-width="2.4" fill="none" />
<circle cx="275.4" cy="1870.1" r="5.0" stroke="#000" stroke-width="2.0" fill="none" />
<line x1="272.2" y1="1866.9" x2="278.6" y2="1873.3" stroke="#000" stroke-width="1.2" />
<line x1="272.2" y1="1873.3" x2="278.6" y2="1866.9" stroke="#000" stroke-width="1.2" />
<circle cx="377.2" cy="1870.1" r="5.0" stroke="#000" stroke-width="2.0" fill="none" />
<line x1="374.0" y1="1866.9" x2="380.4" y2="1873.3" stroke="#000" stroke-width="1.2" />
<line x1="374.0" y1="1873.3" x2="380.4" y2="1866.9" stroke="#000" stroke-width="1.2" />
<circle cx="275.4" cy="1971.9" r="5.0" stroke="#000" stroke-width="2.0" fill="none" />
<line x1="272.2" y1="1968.7" x2="278.6" y2="1975.1" stroke="#000" stroke-width="1.2" />
<line x1="272.2" y1="1975.1" x2="278.6" y2="1968.7" stroke="#000" stroke-width="1.2" />
<circle cx="377.2" cy="1971.9" r="5.0" stroke="#000" stroke-width="2.0" fill="none" />
<line x1="374.0" y1="1968.7" x2="380.4" y2="1975.1" stroke="#000" stroke-width="1.2" />
<line x1="374.0" y1="1975.1" x2="380.4" y2="1968.7" stroke="#000" stroke-width="1.2" />
<line x1="226.3" y1="1921.0" x2="426.3" y2="1921.0" stroke="#000" stroke-width="1.0" stroke-dasharray="14 3 2 3"/>
<line x1="326.3" y1="1780.0" x2="326.3" y2="2045.0" stroke="#000" stroke-width="1.0" stroke-dasharray="14 3 2 3"/>
<line x1="399.4" y1="1780.0" x2="399.4" y2="1866.0" stroke="#000" stroke-width="1.2" />
<line x1="326.3" y1="1788.6" x2="399.4" y2="1788.6" stroke="#000" stroke-width="1.3" />
<path d="M326.3,1788.6 L339.3,1785.4 L339.3,1791.8Z" fill="#000"/>
<path d="M399.4,1788.6 L386.4,1791.8 L386.4,1785.4Z" fill="#000"/>
<g transform="translate(362.0,1766.0) rotate(0)" fill="none" stroke="#000" stroke-width="2.35" stroke-linecap="round" stroke-linejoin="round"><path transform="translate(-14.00,-12.00) scale(1.2151,1.2000)" d="M9.4,3.5 A5,5.6 0 0 0 0,6 L0,14 A5,6 0 0 0 10,14 A5,6 0 0 0 0,14" vector-effect="non-scaling-stroke"/><path transform="translate(1.85,-12.00) scale(1.2151,1.2000)" d="M9.4,3.5 A5,5.6 0 0 0 0,6 L0,14 A5,6 0 0 0 10,14 A5,6 0 0 0 0,14" vector-effect="non-scaling-stroke"/></g>
<line x1="281.0" y1="1977.6" x2="379.4" y2="2075.9" stroke="#000" stroke-width="1.2" />
<line x1="382.9" y1="1875.7" x2="481.2" y2="1974.1" stroke="#000" stroke-width="1.2" />
<line x1="373.4" y1="2069.9" x2="475.2" y2="1968.1" stroke="#000" stroke-width="1.3" />
<path d="M373.4,2069.9 L380.3,2058.5 L384.8,2063.0Z" fill="#000"/>
<path d="M475.2,1968.1 L468.3,1979.5 L463.8,1975.0Z" fill="#000"/>
<g transform="translate(408.7,2003.4) rotate(-45)" fill="none" stroke="#000" stroke-width="2.35" stroke-linecap="round" stroke-linejoin="round"><path transform="translate(-40.00,-12.00) scale(1.4720,1.2000)" d="M5,-1.5 L5,21.5 M5,4.5 A4.8,5.5 0 0 1 5,15.5 A4.8,5.5 0 0 1 5,4.5" vector-effect="non-scaling-stroke"/><path transform="translate(-13.12,-12.00) scale(1.4720,1.2000)" d="M2.5,3.5 L6,0 L6,20" vector-effect="non-scaling-stroke"/><path transform="translate(6.08,-12.00) scale(1.4720,1.2000)" d="M0.4,4.5 A4.6,4.6 0 1 1 4.5,9.6 M4.5,9.6 A5,5.2 0 1 1 0,16" vector-effect="non-scaling-stroke"/><path transform="translate(25.28,-12.00) scale(1.4720,1.2000)" d="M0,6 A5,6 0 0 1 10,6 L10,14 A5,6 0 0 1 0,14 Z" vector-effect="non-scaling-stroke"/></g>
<line x1="264.1" y1="1983.2" x2="396.6" y2="2115.8" stroke="#000" stroke-width="1.2" />
<line x1="388.5" y1="1858.8" x2="521.1" y2="1991.3" stroke="#000" stroke-width="1.2" />
<line x1="390.6" y1="2109.8" x2="515.1" y2="1985.3" stroke="#000" stroke-width="1.3" />
<path d="M390.6,2109.8 L397.6,2098.3 L402.1,2102.9Z" fill="#000"/>
<path d="M515.1,1985.3 L508.2,1996.8 L503.6,1992.3Z" fill="#000"/>
<g transform="translate(437.3,2032.0) rotate(-45)" fill="none" stroke="#000" stroke-width="2.35" stroke-linecap="round" stroke-linejoin="round"><path transform="translate(-40.00,-12.00) scale(1.4720,1.2000)" d="M5,-1.5 L5,21.5 M5,4.5 A4.8,5.5 0 0 1 5,15.5 A4.8,5.5 0 0 1 5,4.5" vector-effect="non-scaling-stroke"/><path transform="translate(-13.12,-12.00) scale(1.4720,1.2000)" d="M2.5,3.5 L6,0 L6,20" vector-effect="non-scaling-stroke"/><path transform="translate(6.08,-12.00) scale(1.4720,1.2000)" d="M9.4,3.5 A5,5.6 0 0 0 0,6 L0,14 A5,6 0 0 0 10,14 A5,6 0 0 0 0,14" vector-effect="non-scaling-stroke"/><path transform="translate(25.28,-12.00) scale(1.4720,1.2000)" d="M0,6 A5,6 0 0 1 10,6 L10,14 A5,6 0 0 1 0,14 Z" vector-effect="non-scaling-stroke"/></g>
<path d="M238.6,2008.7 A124,124 0 0 0 326.3,2045.0" stroke="#000" stroke-width="1.2" fill="none" />
<line x1="326.3" y1="1989.2" x2="326.3" y2="2047.0" stroke="#000" stroke-width="1.2" />
<line x1="286.8" y1="1960.5" x2="235.6" y2="2011.7" stroke="#000" stroke-width="1.2" />
<g transform="translate(279.7,2025.0) rotate(12)" fill="none" stroke="#000" stroke-width="0.90" stroke-linecap="round" stroke-linejoin="round"><path transform="translate(-8.00,-4.50) scale(0.4434,0.4500)" d="M7.5,20 L7.5,0 L0,14.5 L10,14.5" vector-effect="non-scaling-stroke"/><path transform="translate(-2.22,-4.50) scale(0.4434,0.4500)" d="M9.5,0 L1.2,0 L0.6,9.2 C1.8,8 3.5,7.6 5,7.6 A5,6.2 0 0 1 5,20 C2.6,20 0.6,18.6 0,16.5" vector-effect="non-scaling-stroke"/><path transform="translate(3.57,-4.50) scale(0.4434,0.4500)" d="M5,0 A2.5,2.5 0 0 1 5,5 A2.5,2.5 0 0 1 5,0" vector-effect="non-scaling-stroke"/></g>
<line x1="271.9" y1="1968.4" x2="209.9" y2="2030.4" stroke="#000" stroke-width="1.2" />
<line x1="278.9" y1="1975.4" x2="216.9" y2="2037.4" stroke="#000" stroke-width="1.2" />
<line x1="151.9" y1="1972.4" x2="230.9" y2="2051.4" stroke="#000" stroke-width="1.3" />
<path d="M209.9,2030.4 L198.4,2023.4 L202.9,2018.9Z" fill="#000"/>
<path d="M216.9,2037.4 L228.4,2044.4 L223.9,2048.9Z" fill="#000"/>
<g transform="translate(188.6,1963.7) rotate(50)" fill="none" stroke="#000" stroke-width="2.35" stroke-linecap="round" stroke-linejoin="round"><path transform="translate(-40.00,-12.00) scale(1.6959,1.2000)" d="M5,-1.5 L5,21.5 M5,4.5 A4.8,5.5 0 0 1 5,15.5 A4.8,5.5 0 0 1 5,4.5" vector-effect="non-scaling-stroke"/><path transform="translate(-9.03,-12.00) scale(1.6959,1.2000)" d="M0.6,16.5 A5,5.6 0 0 0 10,14 L10,6 A5,6 0 0 0 0,6 A5,6 0 0 0 10,6" vector-effect="non-scaling-stroke"/><circle cx="16.77" cy="10.59" r="1.76" fill="#000" stroke="none"/><path transform="translate(23.04,-12.00) scale(1.6959,1.2000)" d="M9.5,0 L1.2,0 L0.6,9.2 C1.8,8 3.5,7.6 5,7.6 A5,6.2 0 0 1 5,20 C2.6,20 0.6,18.6 0,16.5" vector-effect="non-scaling-stroke"/></g>
<defs><mask id="fdm"><rect x="0" y="0" width="1854" height="2560" fill="#fff"/>
<line x1="1170.3" y1="1975.8" x2="1189.2" y2="1994.7" stroke="#000" stroke-width="15" stroke-linecap="round"/>
<line x1="1073.7" y1="1975.8" x2="1054.8" y2="1994.7" stroke="#000" stroke-width="15" stroke-linecap="round"/>
<line x1="1073.7" y1="1879.2" x2="1054.8" y2="1860.3" stroke="#000" stroke-width="15" stroke-linecap="round"/>
<line x1="1170.3" y1="1879.2" x2="1189.2" y2="1860.3" stroke="#000" stroke-width="15" stroke-linecap="round"/>
</mask></defs>
<g mask="url(#fdm)">
<path d="M1194.3,1886.7 A83,83 0 1 0 1194.3,1968.3 Z" stroke="#000" stroke-width="2.8" fill="none" />
</g>
<line x1="1174.5" y1="1971.6" x2="1184.1" y2="1981.1" stroke="#000" stroke-width="2.6" />
<line x1="1166.1" y1="1980.0" x2="1175.6" y2="1989.6" stroke="#000" stroke-width="2.6" />
<path d="M1174.5,1971.6 A6,6 0 0 0 1166.1,1980.0" stroke="#000" stroke-width="2.6" fill="none" />
<line x1="1077.9" y1="1980.0" x2="1068.4" y2="1989.6" stroke="#000" stroke-width="2.6" />
<line x1="1069.5" y1="1971.6" x2="1059.9" y2="1981.1" stroke="#000" stroke-width="2.6" />
<path d="M1077.9,1980.0 A6,6 0 0 0 1069.5,1971.6" stroke="#000" stroke-width="2.6" fill="none" />
<line x1="1069.5" y1="1883.4" x2="1059.9" y2="1873.9" stroke="#000" stroke-width="2.6" />
<line x1="1077.9" y1="1875.0" x2="1068.4" y2="1865.4" stroke="#000" stroke-width="2.6" />
<path d="M1069.5,1883.4 A6,6 0 0 0 1077.9,1875.0" stroke="#000" stroke-width="2.6" fill="none" />
<line x1="1166.1" y1="1875.0" x2="1175.6" y2="1865.4" stroke="#000" stroke-width="2.6" />
<line x1="1174.5" y1="1883.4" x2="1184.1" y2="1873.9" stroke="#000" stroke-width="2.6" />
<path d="M1166.1,1875.0 A6,6 0 0 0 1174.5,1883.4" stroke="#000" stroke-width="2.6" fill="none" />
<circle cx="1122.0" cy="1927.5" r="68.3" stroke="#000" stroke-width="1.0" fill="none" stroke-dasharray="16 3 2 3"/>
<circle cx="1122.0" cy="1927.5" r="57.6" stroke="#000" stroke-width="2.8" fill="none" />
<circle cx="1122.0" cy="1927.5" r="23.8" stroke="#000" stroke-width="2.6" fill="none" />
<path d="M1117.0,1913.7 L1117.0,1908.0 L1127.0,1908.0 L1127.0,1913.7 A15.0,15.0 0 1 1 1117.0,1913.7Z" stroke="#000" stroke-width="2.4" fill="none" />
<line x1="1032.0" y1="1927.5" x2="1212.0" y2="1927.5" stroke="#000" stroke-width="1.0" stroke-dasharray="14 3 2 3"/>
<line x1="1122.0" y1="1762.0" x2="1122.0" y2="2042.0" stroke="#000" stroke-width="1.0" stroke-dasharray="14 3 2 3"/>
<line x1="1194.3" y1="1762.0" x2="1194.3" y2="1880.0" stroke="#000" stroke-width="1.2" />
<line x1="1122.0" y1="1769.0" x2="1194.3" y2="1769.0" stroke="#000" stroke-width="1.3" />
<path d="M1122.0,1769.0 L1135.0,1765.8 L1135.0,1772.2Z" fill="#000"/>
<path d="M1194.3,1769.0 L1181.3,1772.2 L1181.3,1765.8Z" fill="#000"/>
<g transform="translate(1158.0,1745.4) rotate(0)" fill="none" stroke="#000" stroke-width="2.35" stroke-linecap="round" stroke-linejoin="round"><path transform="translate(-13.50,-12.00) scale(1.1717,1.2000)" d="M9.4,3.5 A5,5.6 0 0 0 0,6 L0,14 A5,6 0 0 0 10,14 A5,6 0 0 0 0,14" vector-effect="non-scaling-stroke"/><path transform="translate(1.78,-12.00) scale(1.1717,1.2000)" d="M0,6 A5,6 0 0 1 10,6 L10,14 A5,6 0 0 1 0,14 Z" vector-effect="non-scaling-stroke"/></g>
<line x1="1080.8" y1="1982.9" x2="1173.7" y2="2075.8" stroke="#000" stroke-width="1.2" />
<line x1="1177.4" y1="1886.3" x2="1270.3" y2="1979.2" stroke="#000" stroke-width="1.2" />
<line x1="1167.7" y1="2069.8" x2="1264.3" y2="1973.2" stroke="#000" stroke-width="1.3" />
<path d="M1167.7,2069.8 L1174.7,2058.4 L1179.2,2062.9Z" fill="#000"/>
<path d="M1264.3,1973.2 L1257.4,1984.7 L1252.9,1980.2Z" fill="#000"/>
<g transform="translate(1200.5,2006.0) rotate(-45)" fill="none" stroke="#000" stroke-width="2.35" stroke-linecap="round" stroke-linejoin="round"><path transform="translate(-40.00,-12.00) scale(1.4720,1.2000)" d="M5,-1.5 L5,21.5 M5,4.5 A4.8,5.5 0 0 1 5,15.5 A4.8,5.5 0 0 1 5,4.5" vector-effect="non-scaling-stroke"/><path transform="translate(-13.12,-12.00) scale(1.4720,1.2000)" d="M2.5,3.5 L6,0 L6,20" vector-effect="non-scaling-stroke"/><path transform="translate(6.08,-12.00) scale(1.4720,1.2000)" d="M2.5,3.5 L6,0 L6,20" vector-effect="non-scaling-stroke"/><path transform="translate(25.28,-12.00) scale(1.4720,1.2000)" d="M9.5,0 L1.2,0 L0.6,9.2 C1.8,8 3.5,7.6 5,7.6 A5,6.2 0 0 1 5,20 C2.6,20 0.6,18.6 0,16.5" vector-effect="non-scaling-stroke"/></g>
<line x1="1063.3" y1="1986.2" x2="1198.3" y2="2121.2" stroke="#000" stroke-width="1.2" />
<line x1="1180.7" y1="1868.8" x2="1315.7" y2="2003.8" stroke="#000" stroke-width="1.2" />
<line x1="1192.3" y1="2115.2" x2="1309.7" y2="1997.8" stroke="#000" stroke-width="1.3" />
<path d="M1192.3,2115.2 L1199.2,2103.7 L1203.7,2108.2Z" fill="#000"/>
<path d="M1309.7,1997.8 L1302.7,2009.2 L1298.2,2004.7Z" fill="#000"/>
<g transform="translate(1235.4,2040.9) rotate(-45)" fill="none" stroke="#000" stroke-width="2.35" stroke-linecap="round" stroke-linejoin="round"><path transform="translate(-40.00,-12.00) scale(1.4720,1.2000)" d="M5,-1.5 L5,21.5 M5,4.5 A4.8,5.5 0 0 1 5,15.5 A4.8,5.5 0 0 1 5,4.5" vector-effect="non-scaling-stroke"/><path transform="translate(-13.12,-12.00) scale(1.4720,1.2000)" d="M2.5,3.5 L6,0 L6,20" vector-effect="non-scaling-stroke"/><path transform="translate(6.08,-12.00) scale(1.4720,1.2000)" d="M7.5,20 L7.5,0 L0,14.5 L10,14.5" vector-effect="non-scaling-stroke"/><path transform="translate(25.28,-12.00) scale(1.4720,1.2000)" d="M0,6 A5,6 0 0 1 10,6 L10,14 A5,6 0 0 1 0,14 Z" vector-effect="non-scaling-stroke"/></g>
<path d="M1042.2,2007.3 A112.8,112.8 0 0 0 1122.0,2040.3" stroke="#000" stroke-width="1.2" fill="none" />
<line x1="1122.0" y1="1989.5" x2="1122.0" y2="2042.3" stroke="#000" stroke-width="1.2" />
<line x1="1086.1" y1="1963.4" x2="1039.2" y2="2010.3" stroke="#000" stroke-width="1.2" />
<g transform="translate(1080.5,2022.6) rotate(12)" fill="none" stroke="#000" stroke-width="0.90" stroke-linecap="round" stroke-linejoin="round"><path transform="translate(-8.00,-4.50) scale(0.4434,0.4500)" d="M7.5,20 L7.5,0 L0,14.5 L10,14.5" vector-effect="non-scaling-stroke"/><path transform="translate(-2.22,-4.50) scale(0.4434,0.4500)" d="M9.5,0 L1.2,0 L0.6,9.2 C1.8,8 3.5,7.6 5,7.6 A5,6.2 0 0 1 5,20 C2.6,20 0.6,18.6 0,16.5" vector-effect="non-scaling-stroke"/><path transform="translate(3.57,-4.50) scale(0.4434,0.4500)" d="M5,0 A2.5,2.5 0 0 1 5,5 A2.5,2.5 0 0 1 5,0" vector-effect="non-scaling-stroke"/></g>
<line x1="1069.5" y1="1971.6" x2="1019.5" y2="2021.6" stroke="#000" stroke-width="1.2" />
<line x1="1077.9" y1="1980.0" x2="1027.9" y2="2030.0" stroke="#000" stroke-width="1.2" />
<line x1="989.5" y1="1991.6" x2="1041.9" y2="2044.0" stroke="#000" stroke-width="1.3" />
<path d="M1019.5,2021.6 L1008.0,2014.6 L1012.5,2010.1Z" fill="#000"/>
<path d="M1027.9,2030.0 L1039.4,2037.0 L1034.9,2041.5Z" fill="#000"/>
<g transform="translate(1012.0,1966.4) rotate(50)" fill="none" stroke="#000" stroke-width="2.35" stroke-linecap="round" stroke-linejoin="round"><path transform="translate(-13.50,-12.00) scale(1.1717,1.2000)" d="M2.5,3.5 L6,0 L6,20" vector-effect="non-scaling-stroke"/><path transform="translate(1.78,-12.00) scale(1.1717,1.2000)" d="M2.5,3.5 L6,0 L6,20" vector-effect="non-scaling-stroke"/></g>
<defs><mask id="f110"><rect x="0" y="0" width="1854" height="2560" fill="#fff"/>
<line x1="692.9" y1="1514.5" x2="730.7" y2="1552.3" stroke="#000" stroke-width="15" stroke-linecap="round"/>
<line x1="612.9" y1="1514.5" x2="575.1" y2="1552.3" stroke="#000" stroke-width="15" stroke-linecap="round"/>
<line x1="612.9" y1="1434.5" x2="575.1" y2="1396.7" stroke="#000" stroke-width="15" stroke-linecap="round"/>
<line x1="692.9" y1="1434.5" x2="730.7" y2="1396.7" stroke="#000" stroke-width="15" stroke-linecap="round"/>
</mask></defs>
<g mask="url(#f110)">
<path d="M613.8,1400.8 L693,1400.8 L727,1434.8 L727,1514 L693,1548 L613.8,1548 L579.8,1514 L579.8,1434.8 Z" stroke="#000" stroke-width="2.8" fill="none" />
</g>
<line x1="697.2" y1="1510.3" x2="713.9" y2="1527.1" stroke="#000" stroke-width="2.6" />
<line x1="688.7" y1="1518.8" x2="705.5" y2="1535.5" stroke="#000" stroke-width="2.6" />
<path d="M697.2,1510.3 A6,6 0 0 0 688.7,1518.8" stroke="#000" stroke-width="2.6" fill="none" />
<line x1="617.1" y1="1518.8" x2="600.3" y2="1535.5" stroke="#000" stroke-width="2.6" />
<line x1="608.6" y1="1510.3" x2="591.9" y2="1527.1" stroke="#000" stroke-width="2.6" />
<path d="M617.1,1518.8 A6,6 0 0 0 608.6,1510.3" stroke="#000" stroke-width="2.6" fill="none" />
<line x1="608.6" y1="1438.7" x2="591.9" y2="1421.9" stroke="#000" stroke-width="2.6" />
<line x1="617.1" y1="1430.2" x2="600.3" y2="1413.5" stroke="#000" stroke-width="2.6" />
<path d="M608.6,1438.7 A6,6 0 0 0 617.1,1430.2" stroke="#000" stroke-width="2.6" fill="none" />
<line x1="688.7" y1="1430.2" x2="705.5" y2="1413.5" stroke="#000" stroke-width="2.6" />
<line x1="697.2" y1="1438.7" x2="713.9" y2="1421.9" stroke="#000" stroke-width="2.6" />
<path d="M688.7,1430.2 A6,6 0 0 0 697.2,1438.7" stroke="#000" stroke-width="2.6" fill="none" />
<circle cx="652.9" cy="1474.5" r="56.6" stroke="#000" stroke-width="1.0" fill="none" stroke-dasharray="16 3 2 3"/>
<circle cx="652.9" cy="1474.5" r="45.6" stroke="#000" stroke-width="2.8" fill="none" />
<circle cx="652.9" cy="1474.5" r="26.8" stroke="#000" stroke-width="2.6" fill="none" />
<path d="M647.9,1459.4 L647.9,1453.6 L657.9,1453.6 L657.9,1459.4 A16.4,16.4 0 1 1 647.9,1459.4Z" stroke="#000" stroke-width="2.4" fill="none" />
<line x1="567.9" y1="1474.5" x2="737.9" y2="1474.5" stroke="#000" stroke-width="1.0" stroke-dasharray="14 3 2 3"/>
<line x1="652.9" y1="1388.0" x2="652.9" y2="1590.0" stroke="#000" stroke-width="1.0" stroke-dasharray="14 3 2 3"/>
<line x1="579.8" y1="1345.0" x2="579.8" y2="1436.0" stroke="#000" stroke-width="1.2" />
<line x1="727.0" y1="1345.0" x2="727.0" y2="1436.0" stroke="#000" stroke-width="1.2" />
<line x1="579.8" y1="1352.0" x2="727.0" y2="1352.0" stroke="#000" stroke-width="1.3" />
<path d="M579.8,1352.0 L592.8,1348.8 L592.8,1355.2Z" fill="#000"/>
<path d="M727.0,1352.0 L714.0,1355.2 L714.0,1348.8Z" fill="#000"/>
<g transform="translate(652.9,1329.0) rotate(0)" fill="none" stroke="#000" stroke-width="2.35" stroke-linecap="round" stroke-linejoin="round"><path transform="translate(-21.30,-12.00) scale(1.1805,1.2000)" d="M2.5,3.5 L6,0 L6,20" vector-effect="non-scaling-stroke"/><path transform="translate(-5.90,-12.00) scale(1.1805,1.2000)" d="M2.5,3.5 L6,0 L6,20" vector-effect="non-scaling-stroke"/><path transform="translate(9.50,-12.00) scale(1.1805,1.2000)" d="M0,6 A5,6 0 0 1 10,6 L10,14 A5,6 0 0 1 0,14 Z" vector-effect="non-scaling-stroke"/></g>
<line x1="618.5" y1="1520.2" x2="718.2" y2="1619.9" stroke="#000" stroke-width="1.2" />
<line x1="698.6" y1="1440.1" x2="798.3" y2="1539.8" stroke="#000" stroke-width="1.2" />
<line x1="712.2" y1="1613.9" x2="792.3" y2="1533.8" stroke="#000" stroke-width="1.3" />
<path d="M712.2,1613.9 L719.2,1602.4 L723.7,1606.9Z" fill="#000"/>
<path d="M792.3,1533.8 L785.3,1545.3 L780.8,1540.8Z" fill="#000"/>
<g transform="translate(736.7,1558.3) rotate(-45)" fill="none" stroke="#000" stroke-width="2.35" stroke-linecap="round" stroke-linejoin="round"><path transform="translate(-32.00,-12.00) scale(1.5495,1.2000)" d="M5,-1.5 L5,21.5 M5,4.5 A4.8,5.5 0 0 1 5,15.5 A4.8,5.5 0 0 1 5,4.5" vector-effect="non-scaling-stroke"/><path transform="translate(-3.71,-12.00) scale(1.5495,1.2000)" d="M5,0 A4.4,4.8 0 0 1 5,9.6 A4.4,4.8 0 0 1 5,0 M5,9.6 A5,5.2 0 0 1 5,20 A5,5.2 0 0 1 5,9.6" vector-effect="non-scaling-stroke"/><path transform="translate(16.51,-12.00) scale(1.5495,1.2000)" d="M9.5,0 L1.2,0 L0.6,9.2 C1.8,8 3.5,7.6 5,7.6 A5,6.2 0 0 1 5,20 C2.6,20 0.6,18.6 0,16.5" vector-effect="non-scaling-stroke"/></g>
<line x1="594.1" y1="1533.3" x2="734.9" y2="1674.0" stroke="#000" stroke-width="1.2" />
<line x1="711.7" y1="1415.7" x2="852.4" y2="1556.5" stroke="#000" stroke-width="1.2" />
<line x1="728.9" y1="1668.0" x2="846.4" y2="1550.5" stroke="#000" stroke-width="1.3" />
<path d="M728.9,1668.0 L735.8,1656.6 L740.4,1661.1Z" fill="#000"/>
<path d="M846.4,1550.5 L839.5,1562.0 L835.0,1557.4Z" fill="#000"/>
<g transform="translate(772.1,1593.7) rotate(-45)" fill="none" stroke="#000" stroke-width="2.35" stroke-linecap="round" stroke-linejoin="round"><path transform="translate(-42.00,-12.00) scale(1.5456,1.2000)" d="M5,-1.5 L5,21.5 M5,4.5 A4.8,5.5 0 0 1 5,15.5 A4.8,5.5 0 0 1 5,4.5" vector-effect="non-scaling-stroke"/><path transform="translate(-13.78,-12.00) scale(1.5456,1.2000)" d="M2.5,3.5 L6,0 L6,20" vector-effect="non-scaling-stroke"/><path transform="translate(6.38,-12.00) scale(1.5456,1.2000)" d="M0.3,5 A4.85,5 0 0 1 10,5 C10,8.5 7,11 0,20 L10,20" vector-effect="non-scaling-stroke"/><path transform="translate(26.54,-12.00) scale(1.5456,1.2000)" d="M9.5,0 L1.2,0 L0.6,9.2 C1.8,8 3.5,7.6 5,7.6 A5,6.2 0 0 1 5,20 C2.6,20 0.6,18.6 0,16.5" vector-effect="non-scaling-stroke"/></g>
<path d="M571.6,1555.8 A115,115 0 0 0 652.9,1589.5" stroke="#000" stroke-width="1.2" fill="none" />
<line x1="652.9" y1="1537.8" x2="652.9" y2="1591.5" stroke="#000" stroke-width="1.2" />
<line x1="616.3" y1="1511.1" x2="568.6" y2="1558.8" stroke="#000" stroke-width="1.2" />
<g transform="translate(610.5,1570.0) rotate(12)" fill="none" stroke="#000" stroke-width="0.90" stroke-linecap="round" stroke-linejoin="round"><path transform="translate(-8.00,-4.50) scale(0.4434,0.4500)" d="M7.5,20 L7.5,0 L0,14.5 L10,14.5" vector-effect="non-scaling-stroke"/><path transform="translate(-2.22,-4.50) scale(0.4434,0.4500)" d="M9.5,0 L1.2,0 L0.6,9.2 C1.8,8 3.5,7.6 5,7.6 A5,6.2 0 0 1 5,20 C2.6,20 0.6,18.6 0,16.5" vector-effect="non-scaling-stroke"/><path transform="translate(3.57,-4.50) scale(0.4434,0.4500)" d="M5,0 A2.5,2.5 0 0 1 5,5 A2.5,2.5 0 0 1 5,0" vector-effect="non-scaling-stroke"/></g>
<line x1="608.6" y1="1510.3" x2="546.6" y2="1572.3" stroke="#000" stroke-width="1.2" />
<line x1="617.1" y1="1518.8" x2="555.1" y2="1580.8" stroke="#000" stroke-width="1.2" />
<line x1="506.6" y1="1532.3" x2="569.1" y2="1594.8" stroke="#000" stroke-width="1.3" />
<path d="M546.6,1572.3 L535.2,1565.3 L539.7,1560.8Z" fill="#000"/>
<path d="M555.1,1580.8 L566.6,1587.7 L562.1,1592.2Z" fill="#000"/>
<g transform="translate(530.0,1525.0) rotate(50)" fill="none" stroke="#000" stroke-width="2.35" stroke-linecap="round" stroke-linejoin="round"><path transform="translate(-13.50,-12.00) scale(1.1717,1.2000)" d="M2.5,3.5 L6,0 L6,20" vector-effect="non-scaling-stroke"/><path transform="translate(1.78,-12.00) scale(1.1717,1.2000)" d="M2.5,3.5 L6,0 L6,20" vector-effect="non-scaling-stroke"/></g>
</svg>
</body></html>
